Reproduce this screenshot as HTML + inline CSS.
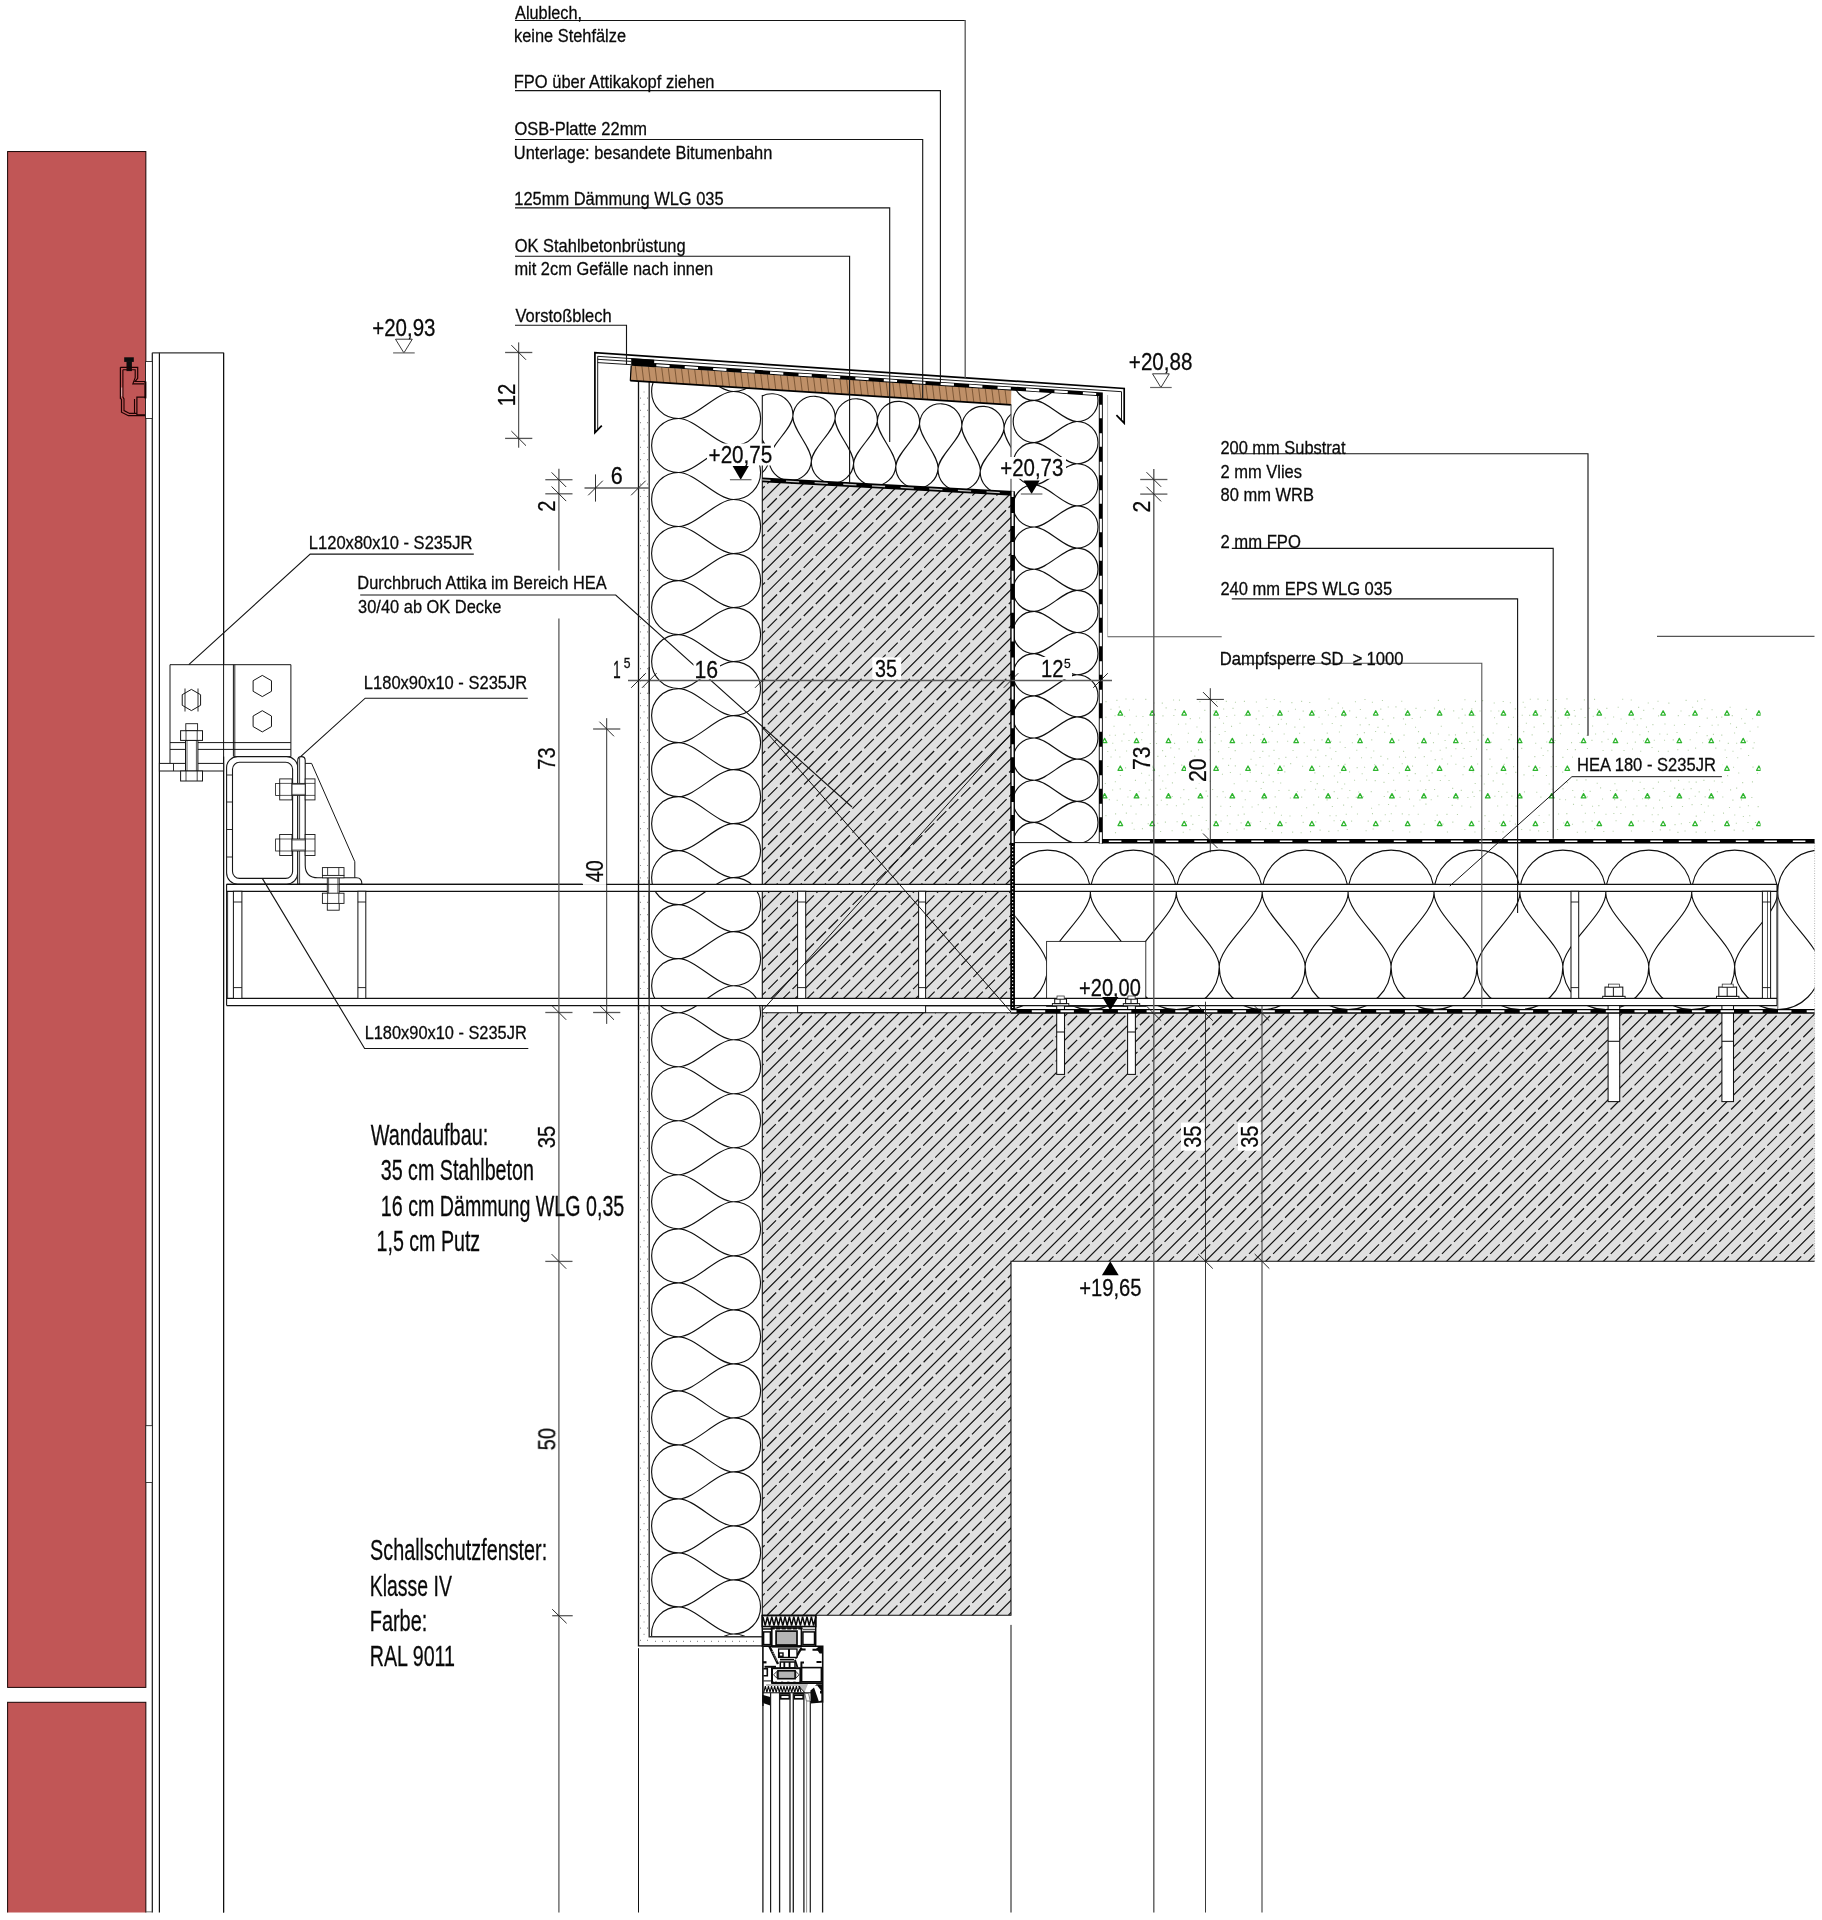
<!DOCTYPE html>
<html><head><meta charset="utf-8"><title>Attika Detail</title>
<style>html,body{margin:0;padding:0;background:#fff}svg{display:block}text{font-family:"Liberation Sans",sans-serif;white-space:pre}</style>
</head><body>
<svg width="1822" height="1920" viewBox="0 0 1822 1920" shape-rendering="geometricPrecision">
<rect width="1822" height="1920" fill="#fff"/>
<clipPath id="gclip"><rect x="0" y="0" width="1822" height="1912.5"/></clipPath>
<g clip-path="url(#gclip)">
<rect x="7.6" y="151.55" width="138.25" height="1535.85" fill="#c15656" stroke="#1a0606" stroke-width="1.0" />
<rect x="7.6" y="1702.3" width="138.25" height="222.7" fill="#c15656" stroke="#1a0606" stroke-width="1.0" />
<line x1="152.3" y1="352.8" x2="152.3" y2="1925" stroke="#111" stroke-width="1.2" />
<line x1="159.4" y1="352.8" x2="159.4" y2="1925" stroke="#111" stroke-width="1.2" />
<line x1="223.6" y1="352.8" x2="223.6" y2="1925" stroke="#111" stroke-width="1.2" />
<line x1="152.3" y1="352.8" x2="223.6" y2="352.8" stroke="#333" stroke-width="1.3" />
<rect x="145.6" y="361.6" width="6.7" height="56.8" fill="#fff" stroke="#111" stroke-width="0.8" />
<rect x="145.8" y="1425.7" width="6.5" height="56.9" fill="#fff" stroke="#111" stroke-width="0.8" />
<line x1="146" y1="1912" x2="152.3" y2="1912" stroke="#444" stroke-width="1" />
<rect x="124.2" y="357.3" width="9.6" height="4.6" fill="#0d0d0d"  />
<rect x="126.5" y="361.5" width="5.4" height="9.6" fill="#0d0d0d"  />
<path d="M120.4 367.3 H137.7 V378.4 L135 381.5 H145 M145 397.2 H136.9 V414.9 H145 M120.4 367.3 V398.4 L121.5 399.2 V412.2 L128.4 415.7 H145" fill="none" stroke="#1c0202" stroke-width="1.2" />
<path d="M122.9 369.8 H135.2 V377.6 L132.8 383.9 H144 M134.5 399 V413 M122.9 369.8 V397 L124 399 V410.6 L129.6 413.4 H136.9" fill="none" stroke="#1c0202" stroke-width="1.1" />
<line x1="145.4" y1="381.5" x2="145.4" y2="398.4" stroke="#100" stroke-width="2.0" />
<line x1="121.6" y1="387.5" x2="121.6" y2="396.5" stroke="#dba0a0" stroke-width="1.2" />
<polygon points="762.3,479.7 1011,493.1 1011,1005.7 762.3,1005.7" fill="#e0e0e0"  />
<polygon points="762.3,1012.8 1011,1012.8 1011,1013.6 1814.6,1013.6 1814.6,1261.3 1011,1261.3 1011,1615.2 762.3,1615.2" fill="#e0e0e0"  />
<clipPath id="c1"><polygon points="762.3,479.7 1011,493.1 1011,1005.7 762.3,1005.7"/></clipPath>
<g clip-path="url(#c1)"><g transform="translate(2.3 0)" stroke="#161616" stroke-width="1.22" fill="none">
<path d="M180.36 1008L712.36 476M204.48 1008L736.48 476M228.6 1008L760.6 476M252.72 1008L784.72 476M276.84 1008L808.84 476M300.96 1008L832.96 476M325.08 1008L857.08 476M349.2 1008L881.2 476M373.32 1008L905.32 476M397.44 1008L929.44 476M421.56 1008L953.56 476M445.68 1008L977.68 476M469.8 1008L1001.8 476M493.92 1008L1025.92 476M518.04 1008L1050.04 476M542.16 1008L1074.16 476M566.28 1008L1098.28 476M590.4 1008L1122.4 476M614.52 1008L1146.52 476M638.64 1008L1170.64 476M662.76 1008L1194.76 476M686.88 1008L1218.88 476M711 1008L1243 476M735.12 1008L1267.12 476M759.24 1008L1291.24 476M783.36 1008L1315.36 476M807.48 1008L1339.48 476M831.6 1008L1363.6 476M855.72 1008L1387.72 476M879.84 1008L1411.84 476M903.96 1008L1435.96 476M928.08 1008L1460.08 476M952.2 1008L1484.2 476M976.32 1008L1508.32 476M1000.44 1008L1532.44 476M1024.56 1008L1556.56 476M1048.68 1008L1580.68 476"/>
<path d="M187.22 1013.19L724.42 476M211.34 1013.19L748.54 476M235.46 1013.19L772.66 476M259.58 1013.19L796.78 476M283.7 1013.19L820.9 476M307.82 1013.19L845.02 476M331.94 1013.19L869.14 476M356.06 1013.19L893.26 476M380.18 1013.19L917.38 476M404.3 1013.19L941.5 476M428.42 1013.19L965.62 476M452.54 1013.19L989.74 476M476.66 1013.19L1013.86 476M500.78 1013.19L1037.98 476M524.9 1013.19L1062.1 476M549.02 1013.19L1086.22 476M573.14 1013.19L1110.34 476M597.26 1013.19L1134.46 476M621.38 1013.19L1158.58 476M645.5 1013.19L1182.7 476M669.62 1013.19L1206.82 476M693.74 1013.19L1230.94 476M717.86 1013.19L1255.06 476M741.98 1013.19L1279.18 476M766.1 1013.19L1303.3 476M790.22 1013.19L1327.42 476M814.34 1013.19L1351.54 476M838.46 1013.19L1375.66 476M862.58 1013.19L1399.78 476M886.7 1013.19L1423.9 476M910.82 1013.19L1448.02 476M934.94 1013.19L1472.14 476M959.06 1013.19L1496.26 476M983.18 1013.19L1520.38 476M1007.3 1013.19L1544.5 476M1031.42 1013.19L1568.62 476M1055.54 1013.19L1592.74 476" stroke-dasharray="13.42 3.6"/>
</g></g>
<clipPath id="c2"><polygon points="762.3,1012.8 1011,1012.8 1011,1013.6 1814.6,1013.6 1814.6,1261.3 1011,1261.3 1011,1615.2 762.3,1615.2"/></clipPath>
<g clip-path="url(#c2)"><g transform="translate(0 0)" stroke="#161616" stroke-width="1.22" fill="none">
<path d="M125.12 1618L733.12 1010M149.24 1618L757.24 1010M173.36 1618L781.36 1010M197.48 1618L805.48 1010M221.6 1618L829.6 1010M245.72 1618L853.72 1010M269.84 1618L877.84 1010M293.96 1618L901.96 1010M318.08 1618L926.08 1010M342.2 1618L950.2 1010M366.32 1618L974.32 1010M390.44 1618L998.44 1010M414.56 1618L1022.56 1010M438.68 1618L1046.68 1010M462.8 1618L1070.8 1010M486.92 1618L1094.92 1010M511.04 1618L1119.04 1010M535.16 1618L1143.16 1010M559.28 1618L1167.28 1010M583.4 1618L1191.4 1010M607.52 1618L1215.52 1010M631.64 1618L1239.64 1010M655.76 1618L1263.76 1010M679.88 1618L1287.88 1010M704 1618L1312 1010M728.12 1618L1336.12 1010M752.24 1618L1360.24 1010M776.36 1618L1384.36 1010M800.48 1618L1408.48 1010M824.6 1618L1432.6 1010M848.72 1618L1456.72 1010M872.84 1618L1480.84 1010M896.96 1618L1504.96 1010M921.08 1618L1529.08 1010M945.2 1618L1553.2 1010M969.32 1618L1577.32 1010M993.44 1618L1601.44 1010M1017.56 1618L1625.56 1010M1041.68 1618L1649.68 1010M1065.8 1618L1673.8 1010M1089.92 1618L1697.92 1010M1114.04 1618L1722.04 1010M1138.16 1618L1746.16 1010M1162.28 1618L1770.28 1010M1186.4 1618L1794.4 1010M1210.52 1618L1818.52 1010M1234.64 1618L1842.64 1010M1258.76 1618L1866.76 1010M1282.88 1618L1890.88 1010M1307 1618L1915 1010M1331.12 1618L1939.12 1010M1355.24 1618L1963.24 1010M1379.36 1618L1987.36 1010M1403.48 1618L2011.48 1010M1427.6 1618L2035.6 1010M1451.72 1618L2059.72 1010M1475.84 1618L2083.84 1010M1499.96 1618L2107.96 1010M1524.08 1618L2132.08 1010M1548.2 1618L2156.2 1010M1572.32 1618L2180.32 1010M1596.44 1618L2204.44 1010M1620.56 1618L2228.56 1010M1644.68 1618L2252.68 1010M1668.8 1618L2276.8 1010M1692.92 1618L2300.92 1010M1717.04 1618L2325.04 1010M1741.16 1618L2349.16 1010M1765.28 1618L2373.28 1010M1789.4 1618L2397.4 1010M1813.52 1618L2421.52 1010M1837.64 1618L2445.64 1010"/>
<path d="M128.2 1626.98L745.18 1010M152.32 1626.98L769.3 1010M176.44 1626.98L793.42 1010M200.56 1626.98L817.54 1010M224.68 1626.98L841.66 1010M248.8 1626.98L865.78 1010M272.92 1626.98L889.9 1010M297.04 1626.98L914.02 1010M321.16 1626.98L938.14 1010M345.28 1626.98L962.26 1010M369.4 1626.98L986.38 1010M393.52 1626.98L1010.5 1010M417.64 1626.98L1034.62 1010M441.76 1626.98L1058.74 1010M465.88 1626.98L1082.86 1010M490 1626.98L1106.98 1010M514.12 1626.98L1131.1 1010M538.24 1626.98L1155.22 1010M562.36 1626.98L1179.34 1010M586.48 1626.98L1203.46 1010M610.6 1626.98L1227.58 1010M634.72 1626.98L1251.7 1010M658.84 1626.98L1275.82 1010M682.96 1626.98L1299.94 1010M707.08 1626.98L1324.06 1010M731.2 1626.98L1348.18 1010M755.32 1626.98L1372.3 1010M779.44 1626.98L1396.42 1010M803.56 1626.98L1420.54 1010M827.68 1626.98L1444.66 1010M851.8 1626.98L1468.78 1010M875.92 1626.98L1492.9 1010M900.04 1626.98L1517.02 1010M924.16 1626.98L1541.14 1010M948.28 1626.98L1565.26 1010M972.4 1626.98L1589.38 1010M996.52 1626.98L1613.5 1010M1020.64 1626.98L1637.62 1010M1044.76 1626.98L1661.74 1010M1068.88 1626.98L1685.86 1010M1093 1626.98L1709.98 1010M1117.12 1626.98L1734.1 1010M1141.24 1626.98L1758.22 1010M1165.36 1626.98L1782.34 1010M1189.48 1626.98L1806.46 1010M1213.6 1626.98L1830.58 1010M1237.72 1626.98L1854.7 1010M1261.84 1626.98L1878.82 1010M1285.96 1626.98L1902.94 1010M1310.08 1626.98L1927.06 1010M1334.2 1626.98L1951.18 1010M1358.32 1626.98L1975.3 1010M1382.44 1626.98L1999.42 1010M1406.56 1626.98L2023.54 1010M1430.68 1626.98L2047.66 1010M1454.8 1626.98L2071.78 1010M1478.92 1626.98L2095.9 1010M1503.04 1626.98L2120.02 1010M1527.16 1626.98L2144.14 1010M1551.28 1626.98L2168.26 1010M1575.4 1626.98L2192.38 1010M1599.52 1626.98L2216.5 1010M1623.64 1626.98L2240.62 1010M1647.76 1626.98L2264.74 1010M1671.88 1626.98L2288.86 1010M1696 1626.98L2312.98 1010M1720.12 1626.98L2337.1 1010M1744.24 1626.98L2361.22 1010M1768.36 1626.98L2385.34 1010M1792.48 1626.98L2409.46 1010M1816.6 1626.98L2433.58 1010M1840.72 1626.98L2457.7 1010" stroke-dasharray="13.42 3.6"/>
</g></g>
<polyline points="762.3,1615.2 762.3,395" fill="none" stroke="#111" stroke-width="1.1" />
<polyline points="762.3,1615.2 1011,1615.2 1011,1261.3 1814.6,1261.3" fill="none" stroke="#111" stroke-width="1.1" />
<line x1="1011" y1="1012.8" x2="762.3" y2="1012.8" stroke="#111" stroke-width="1.1" />
<line x1="762.3" y1="1005.7" x2="1011" y2="1005.7" stroke="#111" stroke-width="1.1" />
<g>
<path d="M1105.46 701.66h1.1M1116.36 700.41h1.1M1125.43 698.96h1.1M1132.71 699.2h1.1M1145.24 699.34h1.1M1153.56 702.97h1.1M1161.75 703.1h1.1M1172.98 700.07h1.1M1178.92 700.16h1.1M1199.36 701.61h1.1M1208.41 699.08h1.1M1216.11 701.79h1.1M1225.78 701.38h1.1M1234.92 702.3h1.1M1243.87 701.33h1.1M1255.85 702.01h1.1M1265.51 699.32h1.1M1273.73 699.47h1.1M1279.77 701.74h1.1M1291.32 702.65h1.1M1301.06 701.42h1.1M1309.21 702.5h1.1M1328.52 699.07h1.1M1337.65 703.17h1.1M1354.9 701.74h1.1M1364.43 699.54h1.1M1371.86 702.18h1.1M1381.89 700.52h1.1M1401.18 701.22h1.1M1437.83 700.38h1.1M1464.38 699.82h1.1M1474.93 701.39h1.1M1482.02 700.64h1.1M1493.69 702.99h1.1M1502.67 701.52h1.1M1509.84 702.76h1.1M1522.65 702.31h1.1M1529.76 699.26h1.1M1537.47 699.1h1.1M1547.11 700.3h1.1M1555.6 699.47h1.1M1566.4 698.91h1.1M1583.85 699.91h1.1M1594 699.34h1.1M1622.13 699.18h1.1M1630.71 699.96h1.1M1647.7 702.98h1.1M1657.45 701.19h1.1M1668.32 703.11h1.1M1685.55 700.41h1.1M1697 701.14h1.1M1704.25 699.78h1.1M1110.4 709.18h1.1M1118.73 707.02h1.1M1128.94 709.95h1.1M1150.32 711.25h1.1M1165.57 707.9h1.1M1174.7 709.65h1.1M1204.27 710.42h1.1M1213.51 710.9h1.1M1223.1 709h1.1M1232.47 708.36h1.1M1258.37 711.07h1.1M1266.55 707.46h1.1M1278.98 710.45h1.1M1287.84 711.21h1.1M1294.94 709.31h1.1M1302.66 711.17h1.1M1314.12 711.01h1.1M1324.84 710.54h1.1M1331.31 708.19h1.1M1341.98 708.04h1.1M1349.18 710.9h1.1M1359.82 709.47h1.1M1380.24 709.11h1.1M1387.7 706.98h1.1M1395.41 706.92h1.1M1404.56 708.98h1.1M1415.45 708.33h1.1M1424.64 710.35h1.1M1433.87 707.99h1.1M1444 709.13h1.1M1453.14 710.91h1.1M1461.7 709.12h1.1M1471.25 708.89h1.1M1479.5 711.04h1.1M1490.46 711.05h1.1M1498.26 711.05h1.1M1514.74 708.85h1.1M1524.46 707.22h1.1M1536.05 710.85h1.1M1544.95 709.81h1.1M1554.88 711.16h1.1M1564.39 708.65h1.1M1573.76 710.56h1.1M1580.5 709.17h1.1M1588.66 708.3h1.1M1597.09 709.34h1.1M1606.28 708.36h1.1M1617.65 707.18h1.1M1638.08 707.36h1.1M1643.17 710.33h1.1M1652.77 708.76h1.1M1680.46 710.94h1.1M1692.08 707.29h1.1M1701.23 708.77h1.1M1711.53 709.69h1.1M1729.57 707.19h1.1M1745.69 709.33h1.1M1105.37 717.32h1.1M1114.48 715.71h1.1M1124.09 716.37h1.1M1135.74 716.28h1.1M1142.38 716.53h1.1M1151.9 715.07h1.1M1162.42 715.83h1.1M1173.31 715.47h1.1M1189.78 718.67h1.1M1199.03 718.03h1.1M1218.86 718.11h1.1M1226.18 716.53h1.1M1234.17 715.31h1.1M1243.92 715.72h1.1M1255.7 718.83h1.1M1262.44 716.07h1.1M1272.42 715.69h1.1M1280.76 719.23h1.1M1299.08 719.25h1.1M1308.77 715h1.1M1318.49 717.21h1.1M1327.82 715.02h1.1M1335.19 716.76h1.1M1344.1 716.34h1.1M1355.78 717.33h1.1M1365.29 718.15h1.1M1382.23 719.33h1.1M1393.19 717.83h1.1M1402.88 718.92h1.1M1411.63 718.57h1.1M1419.9 717.22h1.1M1458.33 718h1.1M1464.61 715.14h1.1M1474.39 715.46h1.1M1493.96 717.76h1.1M1502.55 715.01h1.1M1512.89 717.21h1.1M1521.7 715.29h1.1M1529.11 715.33h1.1M1540.41 715.9h1.1M1550.69 717.17h1.1M1557.71 718.01h1.1M1567.51 717.83h1.1M1574.65 716.12h1.1M1584.54 717.5h1.1M1592.67 716.18h1.1M1604.65 717.97h1.1M1613.07 717.04h1.1M1620.52 718.93h1.1M1633.5 719.12h1.1M1640.42 718.61h1.1M1657.98 715.92h1.1M1677.76 715.62h1.1M1688.59 715.58h1.1M1706.7 718.09h1.1M1715.95 717.14h1.1M1721.22 717.16h1.1M1731.73 715.62h1.1M1740.99 718.7h1.1M1752.1 718.69h1.1M1113.48 726.24h1.1M1129.44 724.83h1.1M1147.79 724.98h1.1M1155.61 723.55h1.1M1177.92 724.2h1.1M1185.25 723.94h1.1M1196.41 726.99h1.1M1214.62 727.24h1.1M1222.97 723.32h1.1M1230.98 726.41h1.1M1239.46 723.32h1.1M1258.68 724.61h1.1M1269.05 727.4h1.1M1277.89 724.42h1.1M1285.94 723.84h1.1M1294.31 727.09h1.1M1303.57 727.09h1.1M1321.61 723.95h1.1M1331.7 723.5h1.1M1340.54 725.61h1.1M1359.62 724.92h1.1M1368.66 724.59h1.1M1377.42 727.36h1.1M1387.61 725.87h1.1M1404.99 724.19h1.1M1414.96 727.3h1.1M1440.74 726.22h1.1M1461.58 723.1h1.1M1472.28 726.73h1.1M1496.28 723.78h1.1M1508 727.24h1.1M1517.05 726.47h1.1M1525.83 723.27h1.1M1533.62 727.15h1.1M1543.14 723.66h1.1M1553.8 726.17h1.1M1560.51 725.41h1.1M1571.11 724.08h1.1M1578.65 724.43h1.1M1592.02 725.94h1.1M1607.23 724.19h1.1M1625.95 723.2h1.1M1636.77 724.95h1.1M1645.94 727.17h1.1M1652.35 724.59h1.1M1664.4 723.97h1.1M1673.85 725.32h1.1M1684.07 724.47h1.1M1699.17 726.45h1.1M1711.59 725.28h1.1M1717.58 724.93h1.1M1729.97 723.74h1.1M1735.94 727.39h1.1M1744.43 723.36h1.1M1757.35 726.99h1.1M1109.19 735.3h1.1M1114.82 735.32h1.1M1123.34 734.12h1.1M1134.05 732.66h1.1M1141.61 732.43h1.1M1155 731.74h1.1M1170.77 734.81h1.1M1187.82 733.28h1.1M1200.85 732.05h1.1M1209.95 731.33h1.1M1218.77 734.57h1.1M1224.55 731.48h1.1M1246.09 735.15h1.1M1253.2 735.41h1.1M1262.35 734.35h1.1M1271.61 731.22h1.1M1283.63 733.99h1.1M1299.03 733.29h1.1M1326.7 733.09h1.1M1338.88 732h1.1M1356.82 734.6h1.1M1363.84 732.61h1.1M1375.04 731.55h1.1M1384.11 732.29h1.1M1390.15 733.63h1.1M1403.51 735.09h1.1M1417.97 731.62h1.1M1429.92 733.17h1.1M1437.83 733.93h1.1M1448.49 734.93h1.1M1454.93 734.9h1.1M1466.09 732.84h1.1M1473.68 732.29h1.1M1482.67 735.09h1.1M1492.64 732.94h1.1M1510.62 734.76h1.1M1523.16 731.65h1.1M1531.6 734.9h1.1M1547.69 731.72h1.1M1559.88 733.77h1.1M1577.81 733.18h1.1M1586.62 735.36h1.1M1595.02 733.93h1.1M1603.22 731.82h1.1M1611.92 733.84h1.1M1620.9 731.25h1.1M1632.18 732.01h1.1M1639.29 734.7h1.1M1647.88 731.65h1.1M1659.22 734.01h1.1M1666.72 734.26h1.1M1676.45 732.55h1.1M1696.09 732.77h1.1M1706.6 735.59h1.1M1712.87 734.4h1.1M1721.23 735.17h1.1M1734.01 732.99h1.1M1749.52 731.27h1.1M1112.22 743.3h1.1M1121.34 740.93h1.1M1128.44 740.55h1.1M1141.07 739.78h1.1M1149.74 743.55h1.1M1155.96 743.45h1.1M1174.03 743.38h1.1M1186.98 742.03h1.1M1204.86 740.28h1.1M1214.32 742.95h1.1M1220.76 741.06h1.1M1230.69 739.84h1.1M1241.39 743.25h1.1M1249.87 742.63h1.1M1260.29 739.82h1.1M1268.22 742.06h1.1M1276.85 741.86h1.1M1287.1 741.27h1.1M1293.5 742.02h1.1M1303.64 742.66h1.1M1313.82 740.09h1.1M1321.47 739.87h1.1M1330.6 741.24h1.1M1339.58 742.1h1.1M1351.83 742.72h1.1M1358.04 741.52h1.1M1371.18 739.9h1.1M1398.19 740.15h1.1M1417.21 743.33h1.1M1425.67 743.39h1.1M1432.94 742.63h1.1M1444.54 740.51h1.1M1461.21 743.35h1.1M1469.36 741.53h1.1M1477.56 740.1h1.1M1490.72 742.29h1.1M1508.45 739.81h1.1M1517 740.88h1.1M1535.15 743.18h1.1M1546.17 742.07h1.1M1554.51 740.46h1.1M1570.99 742.66h1.1M1579.38 742.57h1.1M1591.41 740.42h1.1M1601.33 741.88h1.1M1607.58 739.31h1.1M1616.06 742.01h1.1M1626.86 743.24h1.1M1634.8 742.17h1.1M1643.01 740.86h1.1M1653.77 740.29h1.1M1663.99 740.2h1.1M1672.69 739.89h1.1M1689.66 739.72h1.1M1702.03 742.74h1.1M1708.56 739.35h1.1M1719.07 740.84h1.1M1727.75 743.42h1.1M1736.09 743.28h1.1M1746.54 741.09h1.1M1753.66 742.73h1.1M1107.22 751.54h1.1M1114.88 750.08h1.1M1126.02 750.98h1.1M1133.76 748.72h1.1M1145.51 750.85h1.1M1150.83 751.12h1.1M1162.05 750.66h1.1M1170.19 747.86h1.1M1178.57 748.88h1.1M1190.66 751.12h1.1M1197.97 749.84h1.1M1209.47 749.7h1.1M1218.02 751.65h1.1M1228.27 747.47h1.1M1234.64 750.67h1.1M1253.44 751.27h1.1M1262.25 751.39h1.1M1273.45 750.33h1.1M1292.49 750.47h1.1M1310.39 749.91h1.1M1317.33 750.14h1.1M1329.61 748.04h1.1M1335.27 751.49h1.1M1344.62 747.53h1.1M1356.25 750.19h1.1M1365.64 747.69h1.1M1373.2 751h1.1M1403.02 751.42h1.1M1418.51 747.89h1.1M1430.53 750.97h1.1M1439.63 750.18h1.1M1445.64 747.83h1.1M1455.3 748.8h1.1M1463.69 748.53h1.1M1475.95 749.02h1.1M1486.24 749.62h1.1M1500.54 749.22h1.1M1513 748.93h1.1M1521.17 748.35h1.1M1540.81 748.15h1.1M1547.29 750.75h1.1M1566.96 749.56h1.1M1574.81 749.58h1.1M1586.86 748.55h1.1M1602.54 750.48h1.1M1611.28 750.2h1.1M1623.47 750.47h1.1M1631.96 748.96h1.1M1640.14 751.32h1.1M1651.51 747.51h1.1M1657.96 751.37h1.1M1667.67 751.29h1.1M1677.23 749.74h1.1M1687.71 750.24h1.1M1695.04 748.08h1.1M1715.26 748.15h1.1M1724.6 749.95h1.1M1732.43 751.29h1.1M1740.44 748.73h1.1M1752.51 748.08h1.1M1110.49 756.94h1.1M1119.31 756.94h1.1M1132.09 758.71h1.1M1141.23 755.95h1.1M1150.53 759h1.1M1157.31 756.36h1.1M1165.07 756.41h1.1M1173.95 757.26h1.1M1186.05 757.7h1.1M1194.24 756.12h1.1M1203.18 758.76h1.1M1222.33 758.8h1.1M1230.01 758.68h1.1M1250.48 759.25h1.1M1259.42 757.5h1.1M1268.56 755.93h1.1M1278.44 758.64h1.1M1285.3 757.36h1.1M1296.13 757.3h1.1M1306.69 756.31h1.1M1315.22 757.21h1.1M1325.29 755.67h1.1M1330.91 758.94h1.1M1349.04 758.03h1.1M1360.96 757.75h1.1M1370.65 757.8h1.1M1380.37 756.42h1.1M1387.13 758.86h1.1M1398.93 757.06h1.1M1405.01 757.26h1.1M1414.84 757.35h1.1M1423.75 756.67h1.1M1434.66 759.64h1.1M1441.56 759.03h1.1M1450.73 756.07h1.1M1462.56 758.29h1.1M1470.67 756.49h1.1M1489.41 759.1h1.1M1506.3 757.91h1.1M1517.87 757.06h1.1M1534.26 756.62h1.1M1542.62 755.51h1.1M1552.24 756.58h1.1M1562.31 757.39h1.1M1572.3 757.09h1.1M1600.64 759.49h1.1M1606.82 759.16h1.1M1615.47 755.55h1.1M1634.9 755.95h1.1M1644.03 758.92h1.1M1652.87 759.48h1.1M1662.14 759.42h1.1M1674.04 758.44h1.1M1692.69 756.37h1.1M1700.54 758.76h1.1M1711.28 757.94h1.1M1717.63 756.11h1.1M1726.06 757.56h1.1M1737.16 757.69h1.1M1748 755.53h1.1M1107.28 766.53h1.1M1125.04 767.83h1.1M1135.2 766.4h1.1M1144.28 766.6h1.1M1164.32 765.85h1.1M1173.15 763.75h1.1M1181.15 765.09h1.1M1198.89 765.91h1.1M1206.93 765.51h1.1M1217.64 767.24h1.1M1228.04 765.38h1.1M1234.8 765.83h1.1M1255.48 765.06h1.1M1262.52 766.18h1.1M1273.85 763.78h1.1M1283.5 766h1.1M1290.12 763.63h1.1M1302.05 766.28h1.1M1310.67 767.6h1.1M1319.11 766.36h1.1M1328.22 766.6h1.1M1337.73 765.61h1.1M1344.45 764.4h1.1M1356.61 767.62h1.1M1364.02 767.22h1.1M1374.07 764.74h1.1M1382.66 765h1.1M1392.82 767.71h1.1M1401.7 763.77h1.1M1411.97 766.13h1.1M1426.86 765.3h1.1M1440.13 767.92h1.1M1447.01 764.05h1.1M1455.33 764.27h1.1M1463.62 766.61h1.1M1477.05 763.99h1.1M1491.28 766.77h1.1M1503.63 764.42h1.1M1513.01 766.74h1.1M1528.37 766.37h1.1M1539.23 767.7h1.1M1550.64 766.76h1.1M1555.66 766.46h1.1M1575.37 766.81h1.1M1586.99 765.74h1.1M1594.02 766.13h1.1M1604.58 764.24h1.1M1612.4 766.44h1.1M1621.84 765.3h1.1M1633.36 767.05h1.1M1639.69 763.87h1.1M1660.44 765.06h1.1M1670.3 767.26h1.1M1676.56 765.49h1.1M1696.61 766.25h1.1M1721.21 764.76h1.1M1732.98 767.19h1.1M1752.47 767.17h1.1M1119.8 775.45h1.1M1141.02 773.23h1.1M1148.64 775.21h1.1M1158.7 775.8h1.1M1167.27 774.68h1.1M1174.71 772.82h1.1M1186.48 773.72h1.1M1195.75 775.1h1.1M1203.95 775.65h1.1M1221.9 774.29h1.1M1229.85 772.5h1.1M1239.8 774.18h1.1M1249.68 772.36h1.1M1260.99 773.35h1.1M1268.58 775.16h1.1M1277.63 773.22h1.1M1284.29 771.85h1.1M1314.3 772.85h1.1M1322.87 775.86h1.1M1333.8 775.94h1.1M1339.57 772.58h1.1M1348.97 771.92h1.1M1361.63 773.72h1.1M1388.03 773.45h1.1M1398.82 772.83h1.1M1406.62 775.91h1.1M1414.73 773.67h1.1M1426.45 776.06h1.1M1431.57 772.83h1.1M1444.57 775.68h1.1M1462.46 774.82h1.1M1472.54 771.95h1.1M1480.72 775.83h1.1M1487.91 774.3h1.1M1496.26 773.13h1.1M1505.55 773.82h1.1M1515.25 772.33h1.1M1523.46 774.86h1.1M1532.76 775.78h1.1M1545.91 775.51h1.1M1562.17 772.13h1.1M1589.79 773.2h1.1M1608.96 772.33h1.1M1615.65 774.84h1.1M1625.24 775.53h1.1M1635.61 772.39h1.1M1646.69 773.17h1.1M1654.36 773.1h1.1M1674.91 771.95h1.1M1689.93 773.8h1.1M1699.33 772.59h1.1M1711.76 776.09h1.1M1727.07 775.64h1.1M1738.2 772.99h1.1M1756.95 773.2h1.1M1104.81 783.46h1.1M1114.82 781.72h1.1M1134.91 780.41h1.1M1144.99 782.93h1.1M1151.15 780.18h1.1M1162.18 781.01h1.1M1171.89 782.91h1.1M1188.49 780.09h1.1M1198.6 782.98h1.1M1209.57 781.27h1.1M1233.67 783.8h1.1M1246.64 780.97h1.1M1255.66 781.42h1.1M1262.83 782.42h1.1M1272.69 781.76h1.1M1280.13 782.94h1.1M1310.33 781.48h1.1M1316.67 783.64h1.1M1337.06 782.13h1.1M1344.09 784.06h1.1M1354 780.25h1.1M1366 779.93h1.1M1374.68 780.66h1.1M1383.44 782.34h1.1M1393.09 780.25h1.1M1408.6 780.34h1.1M1419.8 781.03h1.1M1428.58 780.4h1.1M1439.79 780.45h1.1M1448.48 780.52h1.1M1474.65 783.49h1.1M1483.74 783.94h1.1M1492.69 780.86h1.1M1502.32 784.12h1.1M1548.68 784.01h1.1M1566.66 782.58h1.1M1576.34 780.1h1.1M1585.42 779.89h1.1M1596.67 783.22h1.1M1614.36 783.69h1.1M1632.02 780.97h1.1M1639.6 782.19h1.1M1657.9 782.09h1.1M1670.18 781.07h1.1M1678.05 780.33h1.1M1688.61 782.06h1.1M1695.65 782.15h1.1M1703.35 780.38h1.1M1713.79 781.07h1.1M1721.59 782.2h1.1M1742.11 782.66h1.1M1751.93 781.83h1.1M1112.1 789.96h1.1M1119.67 788.87h1.1M1129.49 790.48h1.1M1138.55 791.69h1.1M1148.65 790.06h1.1M1159.75 789.2h1.1M1165.3 788.19h1.1M1183.27 789.61h1.1M1195.44 788.38h1.1M1205.62 791.15h1.1M1212.08 789.45h1.1M1222.51 791.64h1.1M1241.45 791.17h1.1M1249.49 791.35h1.1M1260.62 788.46h1.1M1278.37 790.48h1.1M1288.44 790.42h1.1M1296.85 791.74h1.1M1304.27 789.89h1.1M1314.98 789.19h1.1M1323.44 789.59h1.1M1333.66 791.64h1.1M1341.35 788.71h1.1M1349.24 790.43h1.1M1358.19 791.95h1.1M1370.71 791.59h1.1M1387.28 791.91h1.1M1394.81 790.39h1.1M1407.85 791.3h1.1M1417.39 790.18h1.1M1425.22 789.61h1.1M1434.02 789.44h1.1M1452.11 788.34h1.1M1460.76 790.37h1.1M1472.07 792.14h1.1M1479.34 790.65h1.1M1498.13 791.49h1.1M1506.4 792.21h1.1M1523.89 791.84h1.1M1536.21 792.26h1.1M1551.69 789.18h1.1M1562.42 788.73h1.1M1572.17 790.55h1.1M1582.97 790.7h1.1M1589.61 791.37h1.1M1600.04 787.92h1.1M1609.91 790.48h1.1M1616.27 790.09h1.1M1625.77 790.75h1.1M1638.19 790.43h1.1M1643.53 788.59h1.1M1652.67 788.34h1.1M1663.7 791.52h1.1M1674.15 788.17h1.1M1683.19 789.32h1.1M1690.56 788.65h1.1M1698.64 791.88h1.1M1708.94 789.88h1.1M1716.84 791.82h1.1M1730.02 789.83h1.1M1736.1 788.09h1.1M1108.76 799.59h1.1M1116.65 800.22h1.1M1127.38 797.07h1.1M1135.56 796.97h1.1M1145.45 798.13h1.1M1151.87 796.76h1.1M1160.82 800.27h1.1M1171.67 796.51h1.1M1180.1 797.77h1.1M1188.14 799.63h1.1M1197.88 796.84h1.1M1207.04 796.15h1.1M1216.7 796.69h1.1M1224.81 797.19h1.1M1244.75 799.68h1.1M1262.75 799.18h1.1M1274.62 796.92h1.1M1289.8 797.99h1.1M1301.11 797.15h1.1M1318.02 797.08h1.1M1326.54 799.84h1.1M1337.06 798.39h1.1M1347.4 797.69h1.1M1355.7 797.37h1.1M1362.78 796.78h1.1M1383.72 796.48h1.1M1391.59 798.2h1.1M1399.49 797.37h1.1M1408.95 799.15h1.1M1419.37 800h1.1M1430.68 799.79h1.1M1437.22 796.13h1.1M1448.12 797.55h1.1M1457.3 799.08h1.1M1467.33 797.55h1.1M1473.6 796.51h1.1M1494.34 796.18h1.1M1501.11 796.87h1.1M1511.28 796.17h1.1M1521.61 796.79h1.1M1540.35 797.12h1.1M1549.41 797.54h1.1M1559.27 799.42h1.1M1564.99 799.76h1.1M1574.21 797.08h1.1M1586.68 796.92h1.1M1601.98 799.06h1.1M1614.09 799.65h1.1M1620.4 800.16h1.1M1633.29 799.04h1.1M1642.05 798.76h1.1M1647.84 799.07h1.1M1659.05 800.08h1.1M1669.35 796.19h1.1M1678.75 797.15h1.1M1688.67 798.81h1.1M1694.7 796.26h1.1M1704.61 796.89h1.1M1712.6 799.11h1.1M1722.25 797.06h1.1M1732.36 800.12h1.1M1740.92 799.89h1.1M1751.28 797.47h1.1M1121.95 804.84h1.1M1130.43 806.13h1.1M1140.66 804.6h1.1M1147.79 805.01h1.1M1156.64 804.97h1.1M1166.57 804.6h1.1M1175.86 805.7h1.1M1183.32 804.15h1.1M1201.77 807.26h1.1M1220.28 806.25h1.1M1229.84 806.49h1.1M1242.25 806.94h1.1M1251.52 806.97h1.1M1257.68 804.71h1.1M1269.21 807.79h1.1M1275.82 806.91h1.1M1306.05 807.75h1.1M1313.24 804.91h1.1M1331.82 806.52h1.1M1343.06 805.15h1.1M1351.09 806.86h1.1M1370.98 808.26h1.1M1378.4 804.79h1.1M1387.96 804.45h1.1M1395.32 806.05h1.1M1413.18 806.03h1.1M1425.38 804.11h1.1M1451.67 805.35h1.1M1461.26 805.95h1.1M1470.13 807.03h1.1M1497.1 806.05h1.1M1506.53 804.96h1.1M1515.62 806.13h1.1M1572.97 804.36h1.1M1581.28 805.41h1.1M1591.99 806.22h1.1M1598.32 805.61h1.1M1616.23 807.09h1.1M1624.97 807.01h1.1M1636.36 805.93h1.1M1645.49 805.84h1.1M1652.99 808.02h1.1M1661.89 807.89h1.1M1671.02 806.44h1.1M1681.95 806.54h1.1M1691.52 804.6h1.1M1700.79 804.45h1.1M1707.72 806.03h1.1M1728.94 807.43h1.1M1739.36 807.28h1.1M1747.85 805.82h1.1M1757.62 806.58h1.1M1105.4 815.62h1.1M1115.04 813.84h1.1M1125.81 813.14h1.1M1135.51 814.07h1.1M1154.64 814.68h1.1M1181.68 813.7h1.1M1190.59 815.83h1.1M1198.44 815.44h1.1M1215.39 814.86h1.1M1226.81 815.73h1.1M1237.67 815.17h1.1M1243.65 814.17h1.1M1261.7 812.29h1.1M1273.92 813.02h1.1M1280.88 815.22h1.1M1289.43 816.05h1.1M1301.03 815.76h1.1M1317.91 812.86h1.1M1329.44 815.72h1.1M1335.6 815.8h1.1M1345.73 814.29h1.1M1356.92 813.93h1.1M1371.93 813.65h1.1M1384.73 814.79h1.1M1390.75 813.79h1.1M1401.74 813.91h1.1M1408.43 814.75h1.1M1417.69 814.22h1.1M1436.64 815.15h1.1M1446.4 814.4h1.1M1456.9 814.52h1.1M1484.47 815.59h1.1M1503.19 814.99h1.1M1510.84 815.7h1.1M1538.54 815.56h1.1M1548.64 814.99h1.1M1558.02 813.99h1.1M1566.28 813.62h1.1M1584.82 813.27h1.1M1593.94 812.8h1.1M1605.43 814.19h1.1M1613.3 813.53h1.1M1620.29 813.53h1.1M1632.4 814.63h1.1M1651.65 814.77h1.1M1657.59 814.75h1.1M1678.61 814.08h1.1M1695.73 816.16h1.1M1703.93 812.3h1.1M1713.18 815.3h1.1M1722.96 813.08h1.1M1734.2 815.05h1.1M1742.83 816.44h1.1M1749.15 815.76h1.1M1119.2 821.13h1.1M1131.65 823.12h1.1M1147.64 823.6h1.1M1157.18 823.29h1.1M1164.85 822.12h1.1M1176.56 821.77h1.1M1185.63 821.43h1.1M1192.26 824.37h1.1M1205.75 820.55h1.1M1213.79 821.75h1.1M1220.49 820.93h1.1M1229.4 823.88h1.1M1240.57 822.89h1.1M1250.29 822.95h1.1M1259.86 821.43h1.1M1269.16 823.71h1.1M1278.4 824.6h1.1M1285.42 822.6h1.1M1302.64 822.39h1.1M1315.21 821.89h1.1M1333.53 820.7h1.1M1339.99 820.56h1.1M1351.04 821.1h1.1M1367.66 821.08h1.1M1380.25 821.01h1.1M1388.82 821.37h1.1M1406.6 821.81h1.1M1423.62 824.28h1.1M1434.63 820.59h1.1M1442.37 824.1h1.1M1452.28 822.1h1.1M1478.39 821.41h1.1M1488.51 821.32h1.1M1499.14 823.13h1.1M1509.37 821.25h1.1M1514.89 824.1h1.1M1535.91 823.92h1.1M1543.26 822.44h1.1M1563.2 822.93h1.1M1571.95 824.18h1.1M1582.49 821.89h1.1M1591.6 821.1h1.1M1615.51 820.79h1.1M1637.81 820.96h1.1M1643.43 821.04h1.1M1652.6 821.79h1.1M1674.48 824.61h1.1M1680.83 823.79h1.1M1689.17 822.52h1.1M1700.09 820.76h1.1M1711.76 821.69h1.1M1727.94 820.9h1.1M1735.79 823.32h1.1M1747.45 822.5h1.1M1754.96 822.48h1.1M1114.95 832.66h1.1M1133.6 829.18h1.1M1141.9 828.59h1.1M1152.6 830.85h1.1M1160.05 831.43h1.1M1171.59 830.81h1.1M1182.72 832.25h1.1M1189.36 829.8h1.1M1201.08 830.1h1.1M1207.8 829.03h1.1M1227.07 832.48h1.1M1236.29 830.06h1.1M1243.67 828.91h1.1M1265.2 828.62h1.1M1271.83 831.24h1.1M1280.99 832.68h1.1M1292.08 832.16h1.1M1300.61 832.78h1.1M1309.97 831.67h1.1M1319.53 830.13h1.1M1328.3 831.38h1.1M1337.57 830.79h1.1M1346.7 829.57h1.1M1365.57 830.7h1.1M1372.57 829.03h1.1M1392.31 830.72h1.1M1409.16 832.02h1.1M1420.42 832.04h1.1M1446.88 832.06h1.1M1464.28 829.51h1.1M1474.37 831.93h1.1M1483.99 828.79h1.1M1495.59 831.46h1.1M1502.5 831.91h1.1M1510.26 831.39h1.1M1521.09 829.45h1.1M1529.5 830.08h1.1M1538.08 830.91h1.1M1547.19 831.56h1.1M1557.03 829.46h1.1M1576.8 832.18h1.1M1585.06 831.89h1.1M1594.04 828.59h1.1M1603.22 831.54h1.1M1612.59 831.25h1.1M1630.9 830.95h1.1M1651.87 831.53h1.1M1659.73 829.85h1.1M1669.33 830.07h1.1M1677.39 832.37h1.1M1684.51 831.01h1.1M1695.63 832.09h1.1M1704.88 832.32h1.1M1714.16 830.65h1.1M1733.66 830.17h1.1M1742.59 830.84h1.1M1752.19 828.92h1.1" stroke="#b9d3ad" stroke-width="1.1" fill="none"/>
<clipPath id="c3"><polygon points="1102.5,690 1760.6,690 1760.6,839 1102.5,839"/></clipPath>
<path d="M1118 715L1120.3 710.7L1122.6 715ZM1149.93 715L1152.23 710.7L1154.53 715ZM1181.86 715L1184.16 710.7L1186.46 715ZM1213.79 715L1216.09 710.7L1218.39 715ZM1245.72 715L1248.02 710.7L1250.32 715ZM1277.65 715L1279.95 710.7L1282.25 715ZM1309.58 715L1311.88 710.7L1314.18 715ZM1341.51 715L1343.81 710.7L1346.11 715ZM1373.44 715L1375.74 710.7L1378.04 715ZM1405.37 715L1407.67 710.7L1409.97 715ZM1437.3 715L1439.6 710.7L1441.9 715ZM1469.23 715L1471.53 710.7L1473.83 715ZM1501.16 715L1503.46 710.7L1505.76 715ZM1533.09 715L1535.39 710.7L1537.69 715ZM1565.02 715L1567.32 710.7L1569.62 715ZM1596.95 715L1599.25 710.7L1601.55 715ZM1628.88 715L1631.18 710.7L1633.48 715ZM1660.81 715L1663.11 710.7L1665.41 715ZM1692.74 715L1695.04 710.7L1697.34 715ZM1724.67 715L1726.97 710.7L1729.27 715ZM1756.6 715L1758.9 710.7L1761.2 715ZM1102.3 742.7L1104.6 738.4L1106.9 742.7ZM1134.23 742.7L1136.53 738.4L1138.83 742.7ZM1166.16 742.7L1168.46 738.4L1170.76 742.7ZM1198.09 742.7L1200.39 738.4L1202.69 742.7ZM1230.02 742.7L1232.32 738.4L1234.62 742.7ZM1261.95 742.7L1264.25 738.4L1266.55 742.7ZM1293.88 742.7L1296.18 738.4L1298.48 742.7ZM1325.81 742.7L1328.11 738.4L1330.41 742.7ZM1357.74 742.7L1360.04 738.4L1362.34 742.7ZM1389.67 742.7L1391.97 738.4L1394.27 742.7ZM1421.6 742.7L1423.9 738.4L1426.2 742.7ZM1453.53 742.7L1455.83 738.4L1458.13 742.7ZM1485.46 742.7L1487.76 738.4L1490.06 742.7ZM1517.39 742.7L1519.69 738.4L1521.99 742.7ZM1549.32 742.7L1551.62 738.4L1553.92 742.7ZM1581.25 742.7L1583.55 738.4L1585.85 742.7ZM1613.18 742.7L1615.48 738.4L1617.78 742.7ZM1645.11 742.7L1647.41 738.4L1649.71 742.7ZM1677.04 742.7L1679.34 738.4L1681.64 742.7ZM1708.97 742.7L1711.27 738.4L1713.57 742.7ZM1740.9 742.7L1743.2 738.4L1745.5 742.7ZM1118 770.3L1120.3 766L1122.6 770.3ZM1149.93 770.3L1152.23 766L1154.53 770.3ZM1181.86 770.3L1184.16 766L1186.46 770.3ZM1213.79 770.3L1216.09 766L1218.39 770.3ZM1245.72 770.3L1248.02 766L1250.32 770.3ZM1277.65 770.3L1279.95 766L1282.25 770.3ZM1309.58 770.3L1311.88 766L1314.18 770.3ZM1341.51 770.3L1343.81 766L1346.11 770.3ZM1373.44 770.3L1375.74 766L1378.04 770.3ZM1405.37 770.3L1407.67 766L1409.97 770.3ZM1437.3 770.3L1439.6 766L1441.9 770.3ZM1469.23 770.3L1471.53 766L1473.83 770.3ZM1501.16 770.3L1503.46 766L1505.76 770.3ZM1533.09 770.3L1535.39 766L1537.69 770.3ZM1565.02 770.3L1567.32 766L1569.62 770.3ZM1596.95 770.3L1599.25 766L1601.55 770.3ZM1628.88 770.3L1631.18 766L1633.48 770.3ZM1660.81 770.3L1663.11 766L1665.41 770.3ZM1692.74 770.3L1695.04 766L1697.34 770.3ZM1724.67 770.3L1726.97 766L1729.27 770.3ZM1756.6 770.3L1758.9 766L1761.2 770.3ZM1102.3 797.9L1104.6 793.6L1106.9 797.9ZM1134.23 797.9L1136.53 793.6L1138.83 797.9ZM1166.16 797.9L1168.46 793.6L1170.76 797.9ZM1198.09 797.9L1200.39 793.6L1202.69 797.9ZM1230.02 797.9L1232.32 793.6L1234.62 797.9ZM1261.95 797.9L1264.25 793.6L1266.55 797.9ZM1293.88 797.9L1296.18 793.6L1298.48 797.9ZM1325.81 797.9L1328.11 793.6L1330.41 797.9ZM1357.74 797.9L1360.04 793.6L1362.34 797.9ZM1389.67 797.9L1391.97 793.6L1394.27 797.9ZM1421.6 797.9L1423.9 793.6L1426.2 797.9ZM1453.53 797.9L1455.83 793.6L1458.13 797.9ZM1485.46 797.9L1487.76 793.6L1490.06 797.9ZM1517.39 797.9L1519.69 793.6L1521.99 797.9ZM1549.32 797.9L1551.62 793.6L1553.92 797.9ZM1581.25 797.9L1583.55 793.6L1585.85 797.9ZM1613.18 797.9L1615.48 793.6L1617.78 797.9ZM1645.11 797.9L1647.41 793.6L1649.71 797.9ZM1677.04 797.9L1679.34 793.6L1681.64 797.9ZM1708.97 797.9L1711.27 793.6L1713.57 797.9ZM1740.9 797.9L1743.2 793.6L1745.5 797.9ZM1118 825.6L1120.3 821.3L1122.6 825.6ZM1149.93 825.6L1152.23 821.3L1154.53 825.6ZM1181.86 825.6L1184.16 821.3L1186.46 825.6ZM1213.79 825.6L1216.09 821.3L1218.39 825.6ZM1245.72 825.6L1248.02 821.3L1250.32 825.6ZM1277.65 825.6L1279.95 821.3L1282.25 825.6ZM1309.58 825.6L1311.88 821.3L1314.18 825.6ZM1341.51 825.6L1343.81 821.3L1346.11 825.6ZM1373.44 825.6L1375.74 821.3L1378.04 825.6ZM1405.37 825.6L1407.67 821.3L1409.97 825.6ZM1437.3 825.6L1439.6 821.3L1441.9 825.6ZM1469.23 825.6L1471.53 821.3L1473.83 825.6ZM1501.16 825.6L1503.46 821.3L1505.76 825.6ZM1533.09 825.6L1535.39 821.3L1537.69 825.6ZM1565.02 825.6L1567.32 821.3L1569.62 825.6ZM1596.95 825.6L1599.25 821.3L1601.55 825.6ZM1628.88 825.6L1631.18 821.3L1633.48 825.6ZM1660.81 825.6L1663.11 821.3L1665.41 825.6ZM1692.74 825.6L1695.04 821.3L1697.34 825.6ZM1724.67 825.6L1726.97 821.3L1729.27 825.6ZM1756.6 825.6L1758.9 821.3L1761.2 825.6Z" stroke="#2fb52f" stroke-width="1.25" fill="none" stroke-linejoin="round" clip-path="url(#c3)"/>
</g>
<clipPath id="c4"><polygon points="649.8,381.89 762.3,389.31 762.3,1636.8 649.8,1636.8"/></clipPath>
<path d="M678.61 256.44 A27.01 27.01 0 0 0 678.61 310.46 C695.1 310.46 717.1 283.45 733.59 283.45 A27.01 27.01 0 0 1 733.59 337.47 C717.1 337.47 695.1 310.46 678.61 310.46 A27.01 27.01 0 0 0 678.61 364.48 C695.1 364.48 717.1 337.47 733.59 337.47 A27.01 27.01 0 0 1 733.59 391.49 C717.1 391.49 695.1 364.48 678.61 364.48 A27.01 27.01 0 0 0 678.61 418.5 C695.1 418.5 717.1 391.49 733.59 391.49 A27.01 27.01 0 0 1 733.59 445.51 C717.1 445.51 695.1 418.5 678.61 418.5 A27.01 27.01 0 0 0 678.61 472.52 C695.1 472.52 717.1 445.51 733.59 445.51 A27.01 27.01 0 0 1 733.59 499.53 C717.1 499.53 695.1 472.52 678.61 472.52 A27.01 27.01 0 0 0 678.61 526.54 C695.1 526.54 717.1 499.53 733.59 499.53 A27.01 27.01 0 0 1 733.59 553.55 C717.1 553.55 695.1 526.54 678.61 526.54 A27.01 27.01 0 0 0 678.61 580.56 C695.1 580.56 717.1 553.55 733.59 553.55 A27.01 27.01 0 0 1 733.59 607.57 C717.1 607.57 695.1 580.56 678.61 580.56 A27.01 27.01 0 0 0 678.61 634.58 C695.1 634.58 717.1 607.57 733.59 607.57 A27.01 27.01 0 0 1 733.59 661.59 C717.1 661.59 695.1 634.58 678.61 634.58 A27.01 27.01 0 0 0 678.61 688.6 C695.1 688.6 717.1 661.59 733.59 661.59 A27.01 27.01 0 0 1 733.59 715.61 C717.1 715.61 695.1 688.6 678.61 688.6 A27.01 27.01 0 0 0 678.61 742.62 C695.1 742.62 717.1 715.61 733.59 715.61 A27.01 27.01 0 0 1 733.59 769.63 C717.1 769.63 695.1 742.62 678.61 742.62 A27.01 27.01 0 0 0 678.61 796.64 C695.1 796.64 717.1 769.63 733.59 769.63 A27.01 27.01 0 0 1 733.59 823.65 C717.1 823.65 695.1 796.64 678.61 796.64 A27.01 27.01 0 0 0 678.61 850.66 C695.1 850.66 717.1 823.65 733.59 823.65 A27.01 27.01 0 0 1 733.59 877.67 C717.1 877.67 695.1 850.66 678.61 850.66 A27.01 27.01 0 0 0 678.61 904.68 C695.1 904.68 717.1 877.67 733.59 877.67 A27.01 27.01 0 0 1 733.59 931.69 C717.1 931.69 695.1 904.68 678.61 904.68 A27.01 27.01 0 0 0 678.61 958.7 C695.1 958.7 717.1 931.69 733.59 931.69 A27.01 27.01 0 0 1 733.59 985.71 C717.1 985.71 695.1 958.7 678.61 958.7 A27.01 27.01 0 0 0 678.61 1012.72 C695.1 1012.72 717.1 985.71 733.59 985.71 A27.01 27.01 0 0 1 733.59 1039.73 C717.1 1039.73 695.1 1012.72 678.61 1012.72 A27.01 27.01 0 0 0 678.61 1066.74 C695.1 1066.74 717.1 1039.73 733.59 1039.73 A27.01 27.01 0 0 1 733.59 1093.75 C717.1 1093.75 695.1 1066.74 678.61 1066.74 A27.01 27.01 0 0 0 678.61 1120.76 C695.1 1120.76 717.1 1093.75 733.59 1093.75 A27.01 27.01 0 0 1 733.59 1147.77 C717.1 1147.77 695.1 1120.76 678.61 1120.76 A27.01 27.01 0 0 0 678.61 1174.78 C695.1 1174.78 717.1 1147.77 733.59 1147.77 A27.01 27.01 0 0 1 733.59 1201.79 C717.1 1201.79 695.1 1174.78 678.61 1174.78 A27.01 27.01 0 0 0 678.61 1228.8 C695.1 1228.8 717.1 1201.79 733.59 1201.79 A27.01 27.01 0 0 1 733.59 1255.81 C717.1 1255.81 695.1 1228.8 678.61 1228.8 A27.01 27.01 0 0 0 678.61 1282.82 C695.1 1282.82 717.1 1255.81 733.59 1255.81 A27.01 27.01 0 0 1 733.59 1309.83 C717.1 1309.83 695.1 1282.82 678.61 1282.82 A27.01 27.01 0 0 0 678.61 1336.84 C695.1 1336.84 717.1 1309.83 733.59 1309.83 A27.01 27.01 0 0 1 733.59 1363.85 C717.1 1363.85 695.1 1336.84 678.61 1336.84 A27.01 27.01 0 0 0 678.61 1390.86 C695.1 1390.86 717.1 1363.85 733.59 1363.85 A27.01 27.01 0 0 1 733.59 1417.87 C717.1 1417.87 695.1 1390.86 678.61 1390.86 A27.01 27.01 0 0 0 678.61 1444.88 C695.1 1444.88 717.1 1417.87 733.59 1417.87 A27.01 27.01 0 0 1 733.59 1471.89 C717.1 1471.89 695.1 1444.88 678.61 1444.88 A27.01 27.01 0 0 0 678.61 1498.9 C695.1 1498.9 717.1 1471.89 733.59 1471.89 A27.01 27.01 0 0 1 733.59 1525.91 C717.1 1525.91 695.1 1498.9 678.61 1498.9 A27.01 27.01 0 0 0 678.61 1552.92 C695.1 1552.92 717.1 1525.91 733.59 1525.91 A27.01 27.01 0 0 1 733.59 1579.93 C717.1 1579.93 695.1 1552.92 678.61 1552.92 A27.01 27.01 0 0 0 678.61 1606.94 C695.1 1606.94 717.1 1579.93 733.59 1579.93 A27.01 27.01 0 0 1 733.59 1633.95 C717.1 1633.95 695.1 1606.94 678.61 1606.94 A27.01 27.01 0 0 0 678.61 1660.96 C695.1 1660.96 717.1 1633.95 733.59 1633.95 A27.01 27.01 0 0 1 733.59 1687.97 C717.1 1687.97 695.1 1660.96 678.61 1660.96 A27.01 27.01 0 0 0 678.61 1714.98 C695.1 1714.98 717.1 1687.97 733.59 1687.97 A27.01 27.01 0 0 1 733.59 1741.99 C717.1 1741.99 695.1 1714.98 678.61 1714.98 A27.01 27.01 0 0 0 678.61 1769 C695.1 1769 717.1 1741.99 733.59 1741.99 A27.01 27.01 0 0 1 733.59 1796.01 C717.1 1796.01 695.1 1769 678.61 1769" fill="none" stroke="#101010" stroke-width="1.15" clip-path="url(#c4)"/>
<clipPath id="c5"><polygon points="1011.5,389.5 1099,395.2 1099,842.6 1011.5,842.6"/></clipPath>
<path d="M1034.3 273.8 A21.1 21.1 0 0 0 1034.3 316 C1047.08 316 1064.12 294.9 1076.9 294.9 A21.1 21.1 0 0 1 1076.9 337.1 C1064.12 337.1 1047.08 316 1034.3 316 A21.1 21.1 0 0 0 1034.3 358.2 C1047.08 358.2 1064.12 337.1 1076.9 337.1 A21.1 21.1 0 0 1 1076.9 379.3 C1064.12 379.3 1047.08 358.2 1034.3 358.2 A21.1 21.1 0 0 0 1034.3 400.4 C1047.08 400.4 1064.12 379.3 1076.9 379.3 A21.1 21.1 0 0 1 1076.9 421.5 C1064.12 421.5 1047.08 400.4 1034.3 400.4 A21.1 21.1 0 0 0 1034.3 442.6 C1047.08 442.6 1064.12 421.5 1076.9 421.5 A21.1 21.1 0 0 1 1076.9 463.7 C1064.12 463.7 1047.08 442.6 1034.3 442.6 A21.1 21.1 0 0 0 1034.3 484.8 C1047.08 484.8 1064.12 463.7 1076.9 463.7 A21.1 21.1 0 0 1 1076.9 505.9 C1064.12 505.9 1047.08 484.8 1034.3 484.8 A21.1 21.1 0 0 0 1034.3 527 C1047.08 527 1064.12 505.9 1076.9 505.9 A21.1 21.1 0 0 1 1076.9 548.1 C1064.12 548.1 1047.08 527 1034.3 527 A21.1 21.1 0 0 0 1034.3 569.2 C1047.08 569.2 1064.12 548.1 1076.9 548.1 A21.1 21.1 0 0 1 1076.9 590.3 C1064.12 590.3 1047.08 569.2 1034.3 569.2 A21.1 21.1 0 0 0 1034.3 611.4 C1047.08 611.4 1064.12 590.3 1076.9 590.3 A21.1 21.1 0 0 1 1076.9 632.5 C1064.12 632.5 1047.08 611.4 1034.3 611.4 A21.1 21.1 0 0 0 1034.3 653.6 C1047.08 653.6 1064.12 632.5 1076.9 632.5 A21.1 21.1 0 0 1 1076.9 674.7 C1064.12 674.7 1047.08 653.6 1034.3 653.6 A21.1 21.1 0 0 0 1034.3 695.8 C1047.08 695.8 1064.12 674.7 1076.9 674.7 A21.1 21.1 0 0 1 1076.9 716.9 C1064.12 716.9 1047.08 695.8 1034.3 695.8 A21.1 21.1 0 0 0 1034.3 738 C1047.08 738 1064.12 716.9 1076.9 716.9 A21.1 21.1 0 0 1 1076.9 759.1 C1064.12 759.1 1047.08 738 1034.3 738 A21.1 21.1 0 0 0 1034.3 780.2 C1047.08 780.2 1064.12 759.1 1076.9 759.1 A21.1 21.1 0 0 1 1076.9 801.3 C1064.12 801.3 1047.08 780.2 1034.3 780.2 A21.1 21.1 0 0 0 1034.3 822.4 C1047.08 822.4 1064.12 801.3 1076.9 801.3 A21.1 21.1 0 0 1 1076.9 843.5 C1064.12 843.5 1047.08 822.4 1034.3 822.4 A21.1 21.1 0 0 0 1034.3 864.6 C1047.08 864.6 1064.12 843.5 1076.9 843.5 A21.1 21.1 0 0 1 1076.9 885.7 C1064.12 885.7 1047.08 864.6 1034.3 864.6 A21.1 21.1 0 0 0 1034.3 906.8 C1047.08 906.8 1064.12 885.7 1076.9 885.7 A21.1 21.1 0 0 1 1076.9 927.9 C1064.12 927.9 1047.08 906.8 1034.3 906.8 A21.1 21.1 0 0 0 1034.3 949 C1047.08 949 1064.12 927.9 1076.9 927.9 A21.1 21.1 0 0 1 1076.9 970.1 C1064.12 970.1 1047.08 949 1034.3 949" fill="none" stroke="#101010" stroke-width="1.15" clip-path="url(#c5)"/>
<clipPath id="c6"><polygon points="762.3,389.31 1011,405.73 1011,493.1 762.3,479.7"/></clipPath>
<g clip-path="url(#c6)"><path transform="rotate(3.4 773 393.8)" d="M624.95 414.95 A21.15 21.15 0 0 1 667.25 414.95 C667.25 428 646.1 445.4 646.1 458.45 A21.15 21.15 0 0 0 688.4 458.45 C688.4 445.4 667.25 428 667.25 414.95 A21.15 21.15 0 0 1 709.55 414.95 C709.55 428 688.4 445.4 688.4 458.45 A21.15 21.15 0 0 0 730.7 458.45 C730.7 445.4 709.55 428 709.55 414.95 A21.15 21.15 0 0 1 751.85 414.95 C751.85 428 730.7 445.4 730.7 458.45 A21.15 21.15 0 0 0 773 458.45 C773 445.4 751.85 428 751.85 414.95 A21.15 21.15 0 0 1 794.15 414.95 C794.15 428 773 445.4 773 458.45 A21.15 21.15 0 0 0 815.3 458.45 C815.3 445.4 794.15 428 794.15 414.95 A21.15 21.15 0 0 1 836.45 414.95 C836.45 428 815.3 445.4 815.3 458.45 A21.15 21.15 0 0 0 857.6 458.45 C857.6 445.4 836.45 428 836.45 414.95 A21.15 21.15 0 0 1 878.75 414.95 C878.75 428 857.6 445.4 857.6 458.45 A21.15 21.15 0 0 0 899.9 458.45 C899.9 445.4 878.75 428 878.75 414.95 A21.15 21.15 0 0 1 921.05 414.95 C921.05 428 899.9 445.4 899.9 458.45 A21.15 21.15 0 0 0 942.2 458.45 C942.2 445.4 921.05 428 921.05 414.95 A21.15 21.15 0 0 1 963.35 414.95 C963.35 428 942.2 445.4 942.2 458.45 A21.15 21.15 0 0 0 984.5 458.45 C984.5 445.4 963.35 428 963.35 414.95 A21.15 21.15 0 0 1 1005.65 414.95 C1005.65 428 984.5 445.4 984.5 458.45 A21.15 21.15 0 0 0 1026.8 458.45 C1026.8 445.4 1005.65 428 1005.65 414.95 A21.15 21.15 0 0 1 1047.95 414.95 C1047.95 428 1026.8 445.4 1026.8 458.45 A21.15 21.15 0 0 0 1069.1 458.45 C1069.1 445.4 1047.95 428 1047.95 414.95 A21.15 21.15 0 0 1 1090.25 414.95 C1090.25 428 1069.1 445.4 1069.1 458.45 A21.15 21.15 0 0 0 1111.4 458.45 C1111.4 445.4 1090.25 428 1090.25 414.95 A21.15 21.15 0 0 1 1132.55 414.95 C1132.55 428 1111.4 445.4 1111.4 458.45 A21.15 21.15 0 0 0 1153.7 458.45 C1153.7 445.4 1132.55 428 1132.55 414.95" fill="none" stroke="#101010" stroke-width="1.15"/></g>
<clipPath id="c7"><polygon points="1015.2,843 1814.6,843 1814.6,1009.5 1015.2,1009.5"/></clipPath>
<path d="M746.8 893.05 A42.95 42.95 0 0 1 832.7 893.05 C832.7 915.13 789.75 944.57 789.75 966.65 A42.95 42.95 0 0 0 875.65 966.65 C875.65 944.57 832.7 915.13 832.7 893.05 A42.95 42.95 0 0 1 918.6 893.05 C918.6 915.13 875.65 944.57 875.65 966.65 A42.95 42.95 0 0 0 961.55 966.65 C961.55 944.57 918.6 915.13 918.6 893.05 A42.95 42.95 0 0 1 1004.5 893.05 C1004.5 915.13 961.55 944.57 961.55 966.65 A42.95 42.95 0 0 0 1047.45 966.65 C1047.45 944.57 1004.5 915.13 1004.5 893.05 A42.95 42.95 0 0 1 1090.4 893.05 C1090.4 915.13 1047.45 944.57 1047.45 966.65 A42.95 42.95 0 0 0 1133.35 966.65 C1133.35 944.57 1090.4 915.13 1090.4 893.05 A42.95 42.95 0 0 1 1176.3 893.05 C1176.3 915.13 1133.35 944.57 1133.35 966.65 A42.95 42.95 0 0 0 1219.25 966.65 C1219.25 944.57 1176.3 915.13 1176.3 893.05 A42.95 42.95 0 0 1 1262.2 893.05 C1262.2 915.13 1219.25 944.57 1219.25 966.65 A42.95 42.95 0 0 0 1305.15 966.65 C1305.15 944.57 1262.2 915.13 1262.2 893.05 A42.95 42.95 0 0 1 1348.1 893.05 C1348.1 915.13 1305.15 944.57 1305.15 966.65 A42.95 42.95 0 0 0 1391.05 966.65 C1391.05 944.57 1348.1 915.13 1348.1 893.05 A42.95 42.95 0 0 1 1434 893.05 C1434 915.13 1391.05 944.57 1391.05 966.65 A42.95 42.95 0 0 0 1476.95 966.65 C1476.95 944.57 1434 915.13 1434 893.05 A42.95 42.95 0 0 1 1519.9 893.05 C1519.9 915.13 1476.95 944.57 1476.95 966.65 A42.95 42.95 0 0 0 1562.85 966.65 C1562.85 944.57 1519.9 915.13 1519.9 893.05 A42.95 42.95 0 0 1 1605.8 893.05 C1605.8 915.13 1562.85 944.57 1562.85 966.65 A42.95 42.95 0 0 0 1648.75 966.65 C1648.75 944.57 1605.8 915.13 1605.8 893.05 A42.95 42.95 0 0 1 1691.7 893.05 C1691.7 915.13 1648.75 944.57 1648.75 966.65 A42.95 42.95 0 0 0 1734.65 966.65 C1734.65 944.57 1691.7 915.13 1691.7 893.05 A42.95 42.95 0 0 1 1777.6 893.05 C1777.6 915.13 1734.65 944.57 1734.65 966.65 A42.95 42.95 0 0 0 1820.55 966.65 C1820.55 944.57 1777.6 915.13 1777.6 893.05 A42.95 42.95 0 0 1 1863.5 893.05 C1863.5 915.13 1820.55 944.57 1820.55 966.65 A42.95 42.95 0 0 0 1906.45 966.65 C1906.45 944.57 1863.5 915.13 1863.5 893.05 A42.95 42.95 0 0 1 1949.4 893.05 C1949.4 915.13 1906.45 944.57 1906.45 966.65 A42.95 42.95 0 0 0 1992.35 966.65 C1992.35 944.57 1949.4 915.13 1949.4 893.05 A42.95 42.95 0 0 1 2035.3 893.05 C2035.3 915.13 1992.35 944.57 1992.35 966.65 A42.95 42.95 0 0 0 2078.25 966.65 C2078.25 944.57 2035.3 915.13 2035.3 893.05" fill="none" stroke="#101010" stroke-width="1.15" clip-path="url(#c7)"/>
<line x1="1015" y1="842.6" x2="1100" y2="842.6" stroke="#111" stroke-width="1" />
<line x1="1814.6" y1="843" x2="1814.6" y2="1261.3" stroke="#999" stroke-width="0.7" stroke-dasharray="1 1.5"/>
<path d="M638.5 381.14 V1645.9 H762.3" fill="none" stroke="#111" stroke-width="1.3" />
<path d="M649.2 381.85 V1636.8 H762.3" fill="none" stroke="#333" stroke-width="1.4" />
<path d="M643.6 392h0.9M640 398.1h0.9M647 398.1h0.9M643.6 404.3h0.9M640 410.4h0.9M647 410.4h0.9M643.6 416.6h0.9M640 422.7h0.9M647 422.7h0.9M643.6 428.9h0.9M640 435h0.9M647 435h0.9M643.6 441.2h0.9M640 447.3h0.9M647 447.3h0.9M643.6 453.5h0.9M640 459.6h0.9M647 459.6h0.9M643.6 465.8h0.9M640 471.9h0.9M647 471.9h0.9M643.6 478.1h0.9M640 484.2h0.9M647 484.2h0.9M643.6 490.4h0.9M640 496.5h0.9M647 496.5h0.9M643.6 502.7h0.9M640 508.8h0.9M647 508.8h0.9M643.6 515h0.9M640 521.1h0.9M647 521.1h0.9M643.6 527.3h0.9M640 533.4h0.9M647 533.4h0.9M643.6 539.6h0.9M640 545.7h0.9M647 545.7h0.9M643.6 551.9h0.9M640 558h0.9M647 558h0.9M643.6 564.2h0.9M640 570.3h0.9M647 570.3h0.9M643.6 576.5h0.9M640 582.6h0.9M647 582.6h0.9M643.6 588.8h0.9M640 594.9h0.9M647 594.9h0.9M643.6 601.1h0.9M640 607.2h0.9M647 607.2h0.9M643.6 613.4h0.9M640 619.5h0.9M647 619.5h0.9M643.6 625.7h0.9M640 631.8h0.9M647 631.8h0.9M643.6 638h0.9M640 644.1h0.9M647 644.1h0.9M643.6 650.3h0.9M640 656.4h0.9M647 656.4h0.9M643.6 662.6h0.9M640 668.7h0.9M647 668.7h0.9M643.6 674.9h0.9M640 681h0.9M647 681h0.9M643.6 687.2h0.9M640 693.3h0.9M647 693.3h0.9M643.6 699.5h0.9M640 705.6h0.9M647 705.6h0.9M643.6 711.8h0.9M640 717.9h0.9M647 717.9h0.9M643.6 724.1h0.9M640 730.2h0.9M647 730.2h0.9M643.6 736.4h0.9M640 742.5h0.9M647 742.5h0.9M643.6 748.7h0.9M640 754.8h0.9M647 754.8h0.9M643.6 761h0.9M640 767.1h0.9M647 767.1h0.9M643.6 773.3h0.9M640 779.4h0.9M647 779.4h0.9M643.6 785.6h0.9M640 791.7h0.9M647 791.7h0.9M643.6 797.9h0.9M640 804h0.9M647 804h0.9M643.6 810.2h0.9M640 816.3h0.9M647 816.3h0.9M643.6 822.5h0.9M640 828.6h0.9M647 828.6h0.9M643.6 834.8h0.9M640 840.9h0.9M647 840.9h0.9M643.6 847.1h0.9M640 853.2h0.9M647 853.2h0.9M643.6 859.4h0.9M640 865.5h0.9M647 865.5h0.9M643.6 871.7h0.9M640 877.8h0.9M647 877.8h0.9M643.6 884h0.9M640 890.1h0.9M647 890.1h0.9M643.6 896.3h0.9M640 902.4h0.9M647 902.4h0.9M643.6 908.6h0.9M640 914.7h0.9M647 914.7h0.9M643.6 920.9h0.9M640 927h0.9M647 927h0.9M643.6 933.2h0.9M640 939.3h0.9M647 939.3h0.9M643.6 945.5h0.9M640 951.6h0.9M647 951.6h0.9M643.6 957.8h0.9M640 963.9h0.9M647 963.9h0.9M643.6 970.1h0.9M640 976.2h0.9M647 976.2h0.9M643.6 982.4h0.9M640 988.5h0.9M647 988.5h0.9M643.6 994.7h0.9M640 1000.8h0.9M647 1000.8h0.9M643.6 1007h0.9M640 1013.1h0.9M647 1013.1h0.9M643.6 1019.3h0.9M640 1025.4h0.9M647 1025.4h0.9M643.6 1031.6h0.9M640 1037.7h0.9M647 1037.7h0.9M643.6 1043.9h0.9M640 1050h0.9M647 1050h0.9M643.6 1056.2h0.9M640 1062.3h0.9M647 1062.3h0.9M643.6 1068.5h0.9M640 1074.6h0.9M647 1074.6h0.9M643.6 1080.8h0.9M640 1086.9h0.9M647 1086.9h0.9M643.6 1093.1h0.9M640 1099.2h0.9M647 1099.2h0.9M643.6 1105.4h0.9M640 1111.5h0.9M647 1111.5h0.9M643.6 1117.7h0.9M640 1123.8h0.9M647 1123.8h0.9M643.6 1130h0.9M640 1136.1h0.9M647 1136.1h0.9M643.6 1142.3h0.9M640 1148.4h0.9M647 1148.4h0.9M643.6 1154.6h0.9M640 1160.7h0.9M647 1160.7h0.9M643.6 1166.9h0.9M640 1173h0.9M647 1173h0.9M643.6 1179.2h0.9M640 1185.3h0.9M647 1185.3h0.9M643.6 1191.5h0.9M640 1197.6h0.9M647 1197.6h0.9M643.6 1203.8h0.9M640 1209.9h0.9M647 1209.9h0.9M643.6 1216.1h0.9M640 1222.2h0.9M647 1222.2h0.9M643.6 1228.4h0.9M640 1234.5h0.9M647 1234.5h0.9M643.6 1240.7h0.9M640 1246.8h0.9M647 1246.8h0.9M643.6 1253h0.9M640 1259.1h0.9M647 1259.1h0.9M643.6 1265.3h0.9M640 1271.4h0.9M647 1271.4h0.9M643.6 1277.6h0.9M640 1283.7h0.9M647 1283.7h0.9M643.6 1289.9h0.9M640 1296h0.9M647 1296h0.9M643.6 1302.2h0.9M640 1308.3h0.9M647 1308.3h0.9M643.6 1314.5h0.9M640 1320.6h0.9M647 1320.6h0.9M643.6 1326.8h0.9M640 1332.9h0.9M647 1332.9h0.9M643.6 1339.1h0.9M640 1345.2h0.9M647 1345.2h0.9M643.6 1351.4h0.9M640 1357.5h0.9M647 1357.5h0.9M643.6 1363.7h0.9M640 1369.8h0.9M647 1369.8h0.9M643.6 1376h0.9M640 1382.1h0.9M647 1382.1h0.9M643.6 1388.3h0.9M640 1394.4h0.9M647 1394.4h0.9M643.6 1400.6h0.9M640 1406.7h0.9M647 1406.7h0.9M643.6 1412.9h0.9M640 1419h0.9M647 1419h0.9M643.6 1425.2h0.9M640 1431.3h0.9M647 1431.3h0.9M643.6 1437.5h0.9M640 1443.6h0.9M647 1443.6h0.9M643.6 1449.8h0.9M640 1455.9h0.9M647 1455.9h0.9M643.6 1462.1h0.9M640 1468.2h0.9M647 1468.2h0.9M643.6 1474.4h0.9M640 1480.5h0.9M647 1480.5h0.9M643.6 1486.7h0.9M640 1492.8h0.9M647 1492.8h0.9M643.6 1499h0.9M640 1505.1h0.9M647 1505.1h0.9M643.6 1511.3h0.9M640 1517.4h0.9M647 1517.4h0.9M643.6 1523.6h0.9M640 1529.7h0.9M647 1529.7h0.9M643.6 1535.9h0.9M640 1542h0.9M647 1542h0.9M643.6 1548.2h0.9M640 1554.3h0.9M647 1554.3h0.9M643.6 1560.5h0.9M640 1566.6h0.9M647 1566.6h0.9M643.6 1572.8h0.9M640 1578.9h0.9M647 1578.9h0.9M643.6 1585.1h0.9M640 1591.2h0.9M647 1591.2h0.9M643.6 1597.4h0.9M640 1603.5h0.9M647 1603.5h0.9M643.6 1609.7h0.9M640 1615.8h0.9M647 1615.8h0.9M643.6 1622h0.9M640 1628.1h0.9M647 1628.1h0.9M643.6 1634.3h0.9M640 1640.4h0.9M647 1640.4h0.9M655 1641.4h0.9M662 1641.4h0.9M669 1641.4h0.9M676 1641.4h0.9M683 1641.4h0.9M690 1641.4h0.9M697 1641.4h0.9M704 1641.4h0.9M711 1641.4h0.9M718 1641.4h0.9M725 1641.4h0.9M732 1641.4h0.9M739 1641.4h0.9M746 1641.4h0.9M753 1641.4h0.9" stroke="#858585" stroke-width="1.2" fill="none"/>
<line x1="638.5" y1="1648.2" x2="638.5" y2="1925" stroke="#111" stroke-width="1" />
<line x1="1011" y1="1624.9" x2="1011" y2="1925" stroke="#111" stroke-width="1" />
<polygon points="631.2,365.6 1011.2,389.9 1011.2,404.8 630.3,380.7" fill="#bf9068"  />
<clipPath id="c8"><polygon points="631.2,365.6 1011.2,389.9 1011.2,404.8 630.3,380.7"/></clipPath>
<path d="M628 360L634.2 410M634.55 360L640.75 410M641.1 360L647.3 410M647.65 360L653.85 410M654.2 360L660.4 410M660.75 360L666.95 410M667.3 360L673.5 410M673.85 360L680.05 410M680.4 360L686.6 410M686.95 360L693.15 410M693.5 360L699.7 410M700.05 360L706.25 410M706.6 360L712.8 410M713.15 360L719.35 410M719.7 360L725.9 410M726.25 360L732.45 410M732.8 360L739 410M739.35 360L745.55 410M745.9 360L752.1 410M752.45 360L758.65 410M759 360L765.2 410M765.55 360L771.75 410M772.1 360L778.3 410M778.65 360L784.85 410M785.2 360L791.4 410M791.75 360L797.95 410M798.3 360L804.5 410M804.85 360L811.05 410M811.4 360L817.6 410M817.95 360L824.15 410M824.5 360L830.7 410M831.05 360L837.25 410M837.6 360L843.8 410M844.15 360L850.35 410M850.7 360L856.9 410M857.25 360L863.45 410M863.8 360L870 410M870.35 360L876.55 410M876.9 360L883.1 410M883.45 360L889.65 410M890 360L896.2 410M896.55 360L902.75 410M903.1 360L909.3 410M909.65 360L915.85 410M916.2 360L922.4 410M922.75 360L928.95 410M929.3 360L935.5 410M935.85 360L942.05 410M942.4 360L948.6 410M948.95 360L955.15 410M955.5 360L961.7 410M962.05 360L968.25 410M968.6 360L974.8 410M975.15 360L981.35 410M981.7 360L987.9 410M988.25 360L994.45 410M994.8 360L1001 410M1001.35 360L1007.55 410M1007.9 360L1014.1 410M1014.45 360L1020.65 410" stroke="#6d4a2b" stroke-width="0.8" fill="none" clip-path="url(#c8)"/>
<line x1="630.3" y1="380.7" x2="1011.2" y2="404.8" stroke="#000" stroke-width="1.8" />
<line x1="631.2" y1="365.6" x2="630.3" y2="380.7" stroke="#000" stroke-width="1.2" />
<line x1="1011" y1="404.8" x2="1011" y2="491.5" stroke="#555" stroke-width="1.2" />
<polyline points="601.8,425.6 594.9,432.6 594.9,352.74 1124.2,388.5 1124.2,423.2 1116.4,415.2" fill="none" stroke="#000" stroke-width="1.7" stroke-linejoin="miter"/>
<polyline points="597.7,429.5 597.7,356.33 1121.5,391.69 1121.5,420" fill="none" stroke="#000" stroke-width="0.9" />
<line x1="597.7" y1="359.3" x2="631.2" y2="361.4" stroke="#000" stroke-width="0.9" />
<line x1="597.7" y1="362.6" x2="631.2" y2="364.7" stroke="#000" stroke-width="0.9" />
<line x1="1107.6" y1="395" x2="1107.6" y2="636.7" stroke="#bbb" stroke-width="1" />
<rect x="1046.6" y="941.4" width="99.2" height="65" fill="#fff" stroke="#222" stroke-width="0.9" />
<rect x="226.6" y="884.3" width="1550.4" height="7" fill="#fff"  />
<rect x="226.6" y="998.4" width="1550.4" height="7.2" fill="#fff"  />
<line x1="226.6" y1="884.3" x2="1777" y2="884.3" stroke="#111" stroke-width="1.3" />
<line x1="226.6" y1="891.3" x2="1777" y2="891.3" stroke="#111" stroke-width="1.3" />
<line x1="226.6" y1="998.4" x2="1777" y2="998.4" stroke="#111" stroke-width="1.3" />
<line x1="226.6" y1="1005.6" x2="1777" y2="1005.6" stroke="#111" stroke-width="1.3" />
<line x1="226.6" y1="884.3" x2="226.6" y2="1005.6" stroke="#111" stroke-width="1.1" />
<line x1="227.6" y1="891.3" x2="227.6" y2="998.4" stroke="#111" stroke-width="0.8" />
<line x1="1777" y1="884.3" x2="1777" y2="1005.6" stroke="#111" stroke-width="1.1" />
<line x1="1777.8" y1="891.3" x2="1777.8" y2="1009" stroke="#444" stroke-width="0.9" />
<rect x="233.4" y="891.3" width="8.5" height="107.1" fill="#fff" stroke="#111" stroke-width="1" />
<line x1="233.4" y1="902" x2="241.9" y2="902" stroke="#111" stroke-width="0.9" />
<line x1="233.4" y1="987.6" x2="241.9" y2="987.6" stroke="#111" stroke-width="0.9" />
<rect x="357.9" y="891.3" width="7.9" height="107.1" fill="#fff" stroke="#111" stroke-width="1" />
<line x1="357.9" y1="902" x2="365.8" y2="902" stroke="#111" stroke-width="0.9" />
<line x1="357.9" y1="987.6" x2="365.8" y2="987.6" stroke="#111" stroke-width="0.9" />
<rect x="797.6" y="891.3" width="8.1" height="107.1" fill="#fff" stroke="#111" stroke-width="1" />
<line x1="797.6" y1="902" x2="805.7" y2="902" stroke="#111" stroke-width="0.9" />
<line x1="797.6" y1="987.6" x2="805.7" y2="987.6" stroke="#111" stroke-width="0.9" />
<rect x="918.6" y="891.3" width="7" height="107.1" fill="#fff" stroke="#111" stroke-width="1" />
<line x1="918.6" y1="902" x2="925.6" y2="902" stroke="#111" stroke-width="0.9" />
<line x1="918.6" y1="987.6" x2="925.6" y2="987.6" stroke="#111" stroke-width="0.9" />
<rect x="1571" y="891.3" width="7.7" height="107.1" fill="#fff" stroke="#111" stroke-width="1" />
<line x1="1571" y1="902" x2="1578.7" y2="902" stroke="#111" stroke-width="0.9" />
<line x1="1571" y1="987.6" x2="1578.7" y2="987.6" stroke="#111" stroke-width="0.9" />
<rect x="1762.4" y="891.3" width="8.2" height="107.1" fill="#fff" stroke="#111" stroke-width="1" />
<line x1="1762.4" y1="902" x2="1770.6" y2="902" stroke="#111" stroke-width="0.9" />
<line x1="1762.4" y1="987.6" x2="1770.6" y2="987.6" stroke="#111" stroke-width="0.9" />
<line x1="1767.5" y1="891.3" x2="1767.5" y2="998.4" stroke="#111" stroke-width="0.7" />
<line x1="638.5" y1="880" x2="638.5" y2="1010" stroke="#111" stroke-width="1.3" />
<line x1="649.2" y1="880" x2="649.2" y2="1010" stroke="#333" stroke-width="1.4" />
<rect x="797.6" y="1005.7" width="128" height="6.9" fill="#fff" stroke="#111" stroke-width="1" />
<rect x="1056.7" y="1005.6" width="7.8" height="68.8" fill="#fff" stroke="#111" stroke-width="1.05" />
<line x1="1056.7" y1="1032" x2="1064.5" y2="1032" stroke="#111" stroke-width="1.05" />
<rect x="1052.4" y="1003.6" width="16.4" height="2.2" fill="#fff" stroke="#111" stroke-width="0.95" />
<rect x="1054.7" y="999" width="11.8" height="4.6" fill="#fff" stroke="#111" stroke-width="1.05" />
<line x1="1060.1" y1="999" x2="1060.1" y2="1003.6" stroke="#111" stroke-width="0.95" />
<rect x="1057" y="996" width="7.2" height="3" fill="#fff" stroke="#222" stroke-width="0.7" />
<rect x="1127.6" y="1005.6" width="7.8" height="68.8" fill="#fff" stroke="#111" stroke-width="1.05" />
<line x1="1127.6" y1="1032" x2="1135.4" y2="1032" stroke="#111" stroke-width="1.05" />
<rect x="1123.3" y="1003.6" width="16.4" height="2.2" fill="#fff" stroke="#111" stroke-width="0.95" />
<rect x="1125.6" y="999" width="11.8" height="4.6" fill="#fff" stroke="#111" stroke-width="1.05" />
<line x1="1131" y1="999" x2="1131" y2="1003.6" stroke="#111" stroke-width="0.95" />
<rect x="1127.9" y="996" width="7.2" height="3" fill="#fff" stroke="#222" stroke-width="0.7" />
<rect x="1608.1" y="1005.6" width="11.6" height="96" fill="#fff" stroke="#111" stroke-width="1.05" />
<line x1="1608.1" y1="1041.3" x2="1619.7" y2="1041.3" stroke="#111" stroke-width="1.05" />
<rect x="1602.7" y="996.3" width="22.4" height="2.2" fill="#fff" stroke="#111" stroke-width="0.95" />
<rect x="1605" y="987.1" width="17.8" height="9.2" fill="#fff" stroke="#111" stroke-width="1.05" />
<line x1="1613.4" y1="987.1" x2="1613.4" y2="996.3" stroke="#111" stroke-width="0.95" />
<rect x="1608.4" y="984.1" width="11" height="3" fill="#fff" stroke="#222" stroke-width="0.7" />
<rect x="1721.9" y="1005.6" width="11.6" height="96" fill="#fff" stroke="#111" stroke-width="1.05" />
<line x1="1721.9" y1="1041.3" x2="1733.5" y2="1041.3" stroke="#111" stroke-width="1.05" />
<rect x="1716.5" y="996.3" width="22.4" height="2.2" fill="#fff" stroke="#111" stroke-width="0.95" />
<rect x="1718.8" y="987.1" width="17.8" height="9.2" fill="#fff" stroke="#111" stroke-width="1.05" />
<line x1="1727.2" y1="987.1" x2="1727.2" y2="996.3" stroke="#111" stroke-width="0.95" />
<rect x="1722.2" y="984.1" width="11" height="3" fill="#fff" stroke="#222" stroke-width="0.7" />
<rect x="0" y="0" width="0" height="0" fill="none" stroke="#111" stroke-width="1" />
<polygon points="631.2,358.3 654.2,359.8 654.2,367.3 631.2,365.8" fill="#000"/>
<polyline points="1100.8,841.3 1814.6,841.3" fill="none" stroke="#000" stroke-width="4.4" stroke-linejoin="miter"/>
<polyline points="1100.8,841.3 1814.6,841.3" fill="none" stroke="#fff" stroke-width="1.4" stroke-dasharray="12.6 15.9" stroke-dashoffset="-8"/>
<polyline points="654,365.12 1100.8,394.31 1100.8,843.4" fill="none" stroke="#000" stroke-width="4.0" stroke-linejoin="miter"/>
<polyline points="654,365.12 1100.8,394.31 1100.8,843.4" fill="none" stroke="#fff" stroke-width="2.2" stroke-dasharray="13.3 15.2" stroke-dashoffset="-2.3"/>
<polyline points="762.3,479.9 1013.5,493.4" fill="none" stroke="#000" stroke-width="4.7" stroke-linejoin="miter"/>
<polyline points="762.3,479.9 1013.5,493.4" fill="none" stroke="#c4c4c4" stroke-width="1.3" stroke-dasharray="13.2 15.5" stroke-dashoffset="5"/>
<polyline points="1012.6,491.3 1012.6,845" fill="none" stroke="#000" stroke-width="4.7" stroke-linejoin="miter"/>
<polyline points="1012.6,491.3 1012.6,845" fill="none" stroke="#fff" stroke-width="1.9" stroke-dasharray="13 15.9" stroke-dashoffset="-21.7"/>
<polyline points="1010.8,1011.3 1814.6,1011.3" fill="none" stroke="#000" stroke-width="4.8" stroke-linejoin="miter"/>
<polyline points="1010.8,1011.3 1814.6,1011.3" fill="none" stroke="#fff" stroke-width="1.9" stroke-dasharray="13.4 15.3" stroke-dashoffset="-21"/>
<line x1="1012.6" y1="843" x2="1012.6" y2="1009.4" stroke="#000" stroke-width="4.7" />
<line x1="1012.6" y1="846" x2="1012.6" y2="1008" stroke="#fff" stroke-width="1.2" stroke-dasharray="1.3 2.2"/>
<rect x="170" y="664.7" width="120.9" height="91.9" fill="#fff"  />
<polyline points="170,763.4 170,664.7 290.9,664.7 290.9,756.6 234,756.6" fill="none" stroke="#161616" stroke-width="1" />
<line x1="233.4" y1="664.7" x2="233.4" y2="756.6" stroke="#161616" stroke-width="1" />
<line x1="234.8" y1="664.7" x2="234.8" y2="756.6" stroke="#161616" stroke-width="0.9" />
<line x1="170" y1="742.6" x2="290.9" y2="742.6" stroke="#161616" stroke-width="1" />
<line x1="170" y1="749.4" x2="290.9" y2="749.4" stroke="#161616" stroke-width="1" />
<line x1="223.6" y1="352.8" x2="223.6" y2="1925" stroke="#111" stroke-width="1" />
<polygon points="262.3,675.4 271.48,680.7 271.48,691.3 262.3,696.6 253.12,691.3 253.12,680.7" fill="#fff" stroke="#161616" stroke-width="1" />
<polygon points="262.3,710.7 271.48,716 271.48,726.6 262.3,731.9 253.12,726.6 253.12,716" fill="#fff" stroke="#161616" stroke-width="1" />
<polygon points="191.4,689.4 200.58,694.7 200.58,705.3 191.4,710.6 182.22,705.3 182.22,694.7" fill="#fff" stroke="#161616" stroke-width="1" />
<line x1="185" y1="688.5" x2="185" y2="711.5" stroke="#161616" stroke-width="0.9" />
<line x1="198" y1="688.5" x2="198" y2="711.5" stroke="#161616" stroke-width="0.9" />
<rect x="159.4" y="763.4" width="64.2" height="7.6" fill="#fff" stroke="#161616" stroke-width="1" />
<line x1="173.5" y1="763.4" x2="173.5" y2="771" stroke="#161616" stroke-width="0.9" />
<rect x="185.5" y="740.4" width="12.4" height="30.6" fill="#fff" stroke="#161616" stroke-width="1" />
<line x1="187" y1="740.4" x2="187" y2="771" stroke="#161616" stroke-width="0.7" />
<line x1="196.4" y1="740.4" x2="196.4" y2="771" stroke="#161616" stroke-width="0.7" />
<rect x="185.8" y="723.7" width="11.8" height="7" fill="#fff" stroke="#161616" stroke-width="0.9" />
<rect x="180.6" y="730.7" width="21.9" height="9.7" fill="#fff" stroke="#161616" stroke-width="1" />
<line x1="186" y1="730.7" x2="186" y2="740.4" stroke="#161616" stroke-width="0.8" />
<line x1="197.2" y1="730.7" x2="197.2" y2="740.4" stroke="#161616" stroke-width="0.8" />
<rect x="180.6" y="771" width="21.9" height="10" fill="#fff" stroke="#161616" stroke-width="1" />
<line x1="186" y1="771" x2="186" y2="781" stroke="#161616" stroke-width="0.8" />
<line x1="197.2" y1="771" x2="197.2" y2="781" stroke="#161616" stroke-width="0.8" />
<rect x="226.6" y="756.6" width="71.1" height="127.5" rx="11" ry="11" fill="#fff" stroke="#161616" stroke-width="1.1"/>
<rect x="232.5" y="762.3" width="60.1" height="116.1" rx="7" ry="7" fill="#fff" stroke="#161616" stroke-width="1.1"/>
<line x1="226.6" y1="775" x2="232.5" y2="775" stroke="#161616" stroke-width="0.9" />
<line x1="226.6" y1="802" x2="232.5" y2="802" stroke="#161616" stroke-width="0.9" />
<line x1="226.6" y1="829.5" x2="232.5" y2="829.5" stroke="#161616" stroke-width="0.9" />
<line x1="226.6" y1="857" x2="232.5" y2="857" stroke="#161616" stroke-width="0.9" />
<path d="M297.7 884.1 V760.5 Q297.7 756.6 301.4 756.6 Q305.2 756.6 305.2 760.5 V865 Q305.2 877.8 318 877.8 H356.5 Q361.9 877.8 361.9 884.1 Z" fill="#fff" stroke="#161616" stroke-width="1.1" />
<line x1="299.6" y1="758" x2="299.6" y2="884.1" stroke="#161616" stroke-width="0.8" />
<polyline points="305.2,763.4 311.6,763.4 354.8,861.7 354.8,877.8" fill="none" stroke="#161616" stroke-width="1" />
<rect x="279.7" y="778.9" width="12.3" height="21" fill="#fff" stroke="#161616" stroke-width="0.9" />
<line x1="279.7" y1="783.4" x2="292" y2="783.4" stroke="#161616" stroke-width="0.7" />
<line x1="279.7" y1="795.4" x2="292" y2="795.4" stroke="#161616" stroke-width="0.7" />
<rect x="275.6" y="783.4" width="4.1" height="12" fill="#fff" stroke="#161616" stroke-width="0.8" />
<rect x="305.2" y="778.9" width="9.8" height="21" fill="#fff" stroke="#161616" stroke-width="0.9" />
<line x1="305.2" y1="783.4" x2="315" y2="783.4" stroke="#161616" stroke-width="0.7" />
<line x1="305.2" y1="795.4" x2="315" y2="795.4" stroke="#161616" stroke-width="0.7" />
<rect x="292" y="783.4" width="13.2" height="12" fill="#fff" stroke="#161616" stroke-width="0.9" />
<line x1="292" y1="784.4" x2="305.2" y2="784.4" stroke="#161616" stroke-width="0.6" />
<line x1="292" y1="794.4" x2="305.2" y2="794.4" stroke="#161616" stroke-width="0.6" />
<rect x="279.7" y="834.5" width="12.3" height="21" fill="#fff" stroke="#161616" stroke-width="0.9" />
<line x1="279.7" y1="839" x2="292" y2="839" stroke="#161616" stroke-width="0.7" />
<line x1="279.7" y1="851" x2="292" y2="851" stroke="#161616" stroke-width="0.7" />
<rect x="275.6" y="839" width="4.1" height="12" fill="#fff" stroke="#161616" stroke-width="0.8" />
<rect x="305.2" y="834.5" width="9.8" height="21" fill="#fff" stroke="#161616" stroke-width="0.9" />
<line x1="305.2" y1="839" x2="315" y2="839" stroke="#161616" stroke-width="0.7" />
<line x1="305.2" y1="851" x2="315" y2="851" stroke="#161616" stroke-width="0.7" />
<rect x="292" y="839" width="13.2" height="12" fill="#fff" stroke="#161616" stroke-width="0.9" />
<line x1="292" y1="840" x2="305.2" y2="840" stroke="#161616" stroke-width="0.6" />
<line x1="292" y1="850" x2="305.2" y2="850" stroke="#161616" stroke-width="0.6" />
<rect x="327.3" y="877.8" width="11.9" height="32.4" fill="#fff" stroke="#161616" stroke-width="0.9" />
<line x1="328.6" y1="877.8" x2="328.6" y2="903" stroke="#161616" stroke-width="0.7" />
<line x1="337.9" y1="877.8" x2="337.9" y2="903" stroke="#161616" stroke-width="0.7" />
<rect x="322.4" y="867.6" width="21.6" height="7.8" fill="#fff" stroke="#161616" stroke-width="0.9" />
<line x1="327.6" y1="867.6" x2="327.6" y2="875.4" stroke="#161616" stroke-width="0.8" />
<line x1="338.8" y1="867.6" x2="338.8" y2="875.4" stroke="#161616" stroke-width="0.8" />
<rect x="322.4" y="875.4" width="21.6" height="2.4" fill="#fff" stroke="#161616" stroke-width="0.8" />
<rect x="322.4" y="893.2" width="21.6" height="10.2" fill="#fff" stroke="#161616" stroke-width="0.9" />
<line x1="327.6" y1="893.2" x2="327.6" y2="903.4" stroke="#161616" stroke-width="0.8" />
<line x1="338.8" y1="893.2" x2="338.8" y2="903.4" stroke="#161616" stroke-width="0.8" />
<line x1="226.6" y1="884.3" x2="582" y2="884.3" stroke="#111" stroke-width="1.1" />
<rect x="762.3" y="1615.6" width="53.4" height="30.6" fill="#fff" stroke="#0a0a0a" stroke-width="1.5" />
<rect x="762.3" y="1646.2" width="60.8" height="56.2" fill="#fff"  />
<path d="M762.9 1706 V1646.2 H822.7 V1702.4" fill="none" stroke="#0a0a0a" stroke-width="1.6" />
<rect x="762.3" y="1615.6" width="53.4" height="10.9" fill="#fff" stroke="#0a0a0a" stroke-width="1.6" />
<path d="M763 1617L765.2 1625.6L767.4 1616.8L769.6 1625.6L771.8 1616.8L774 1625.6L776.2 1616.8L778.4 1625.6L780.6 1616.8L782.8 1625.6L785 1616.8L787.2 1625.6L789.4 1616.8L791.6 1625.6L793.8 1616.8L796 1625.6L798.2 1616.8L800.4 1625.6L802.6 1616.8L804.8 1625.6L807 1616.8L809.2 1625.6L811.4 1616.8L813.6 1625.6L815.8 1616.8" fill="none" stroke="#0a0a0a" stroke-width="1.5" />
<rect x="763.6" y="1631.9" width="6.8" height="12.7" fill="#fff" stroke="#0a0a0a" stroke-width="1.5" />
<rect x="802.9" y="1631.9" width="11.6" height="12.7" fill="#fff" stroke="#0a0a0a" stroke-width="1.5" />
<rect x="771.8" y="1628" width="29.6" height="18.2" fill="#fff" stroke="#0a0a0a" stroke-width="1.6" />
<rect x="776.1" y="1631.1" width="20.9" height="13.9" fill="#b4b4b4" stroke="#0a0a0a" stroke-width="1.7" />
<line x1="770.4" y1="1628.6" x2="802.9" y2="1628.6" stroke="#0a0a0a" stroke-width="2.0" stroke-dasharray="4.2 1.4"/>
<line x1="763" y1="1629" x2="771" y2="1629" stroke="#0a0a0a" stroke-width="1.5" />
<line x1="803" y1="1629.5" x2="815" y2="1629.5" stroke="#555" stroke-width="1.5" />
<line x1="771.5" y1="1646.4" x2="802" y2="1646.4" stroke="#0a0a0a" stroke-width="2.4" />
<path d="M769.5 1646.5 L778 1664 M801.5 1648 L795.3 1658.5" fill="none" stroke="#0a0a0a" stroke-width="2.4" />
<path d="M772 1651 L777.5 1662" fill="none" stroke="#fff" stroke-width="0.7" stroke-dasharray="1.2 1.2"/>
<rect x="778.6" y="1649" width="18.4" height="8.4" fill="#fff" stroke="#0a0a0a" stroke-width="1.3" />
<line x1="789" y1="1649" x2="789" y2="1657.4" stroke="#0a0a0a" stroke-width="2.0" />
<rect x="779.2" y="1653" width="3.8" height="3.3" fill="#fff" stroke="#0a0a0a" stroke-width="1.4" />
<line x1="780" y1="1659.6" x2="794" y2="1659.6" stroke="#0a0a0a" stroke-width="1.6" />
<rect x="780.3" y="1662" width="14.7" height="6" fill="#fff" stroke="#0a0a0a" stroke-width="1.5" />
<line x1="784.3" y1="1662" x2="784.3" y2="1668" stroke="#0a0a0a" stroke-width="1.8" />
<line x1="789.6" y1="1662" x2="789.6" y2="1668" stroke="#0a0a0a" stroke-width="1.8" />
<path d="M795 1659.8 L797.5 1667.5" fill="none" stroke="#0a0a0a" stroke-width="1.8" />
<path d="M801 1649.6 H805.6 M812.5 1649.8 H818.5 M800.5 1662.5 H804 M816.5 1662 H821.5 M801.4 1662.5 V1667.6" fill="none" stroke="#0a0a0a" stroke-width="2.0" />
<polygon points="818.6,1646.8 822.9,1646.8 822.9,1653.6 819.6,1653.6 816.2,1648.4" fill="#0a0a0a"  />
<rect x="801.6" y="1667.6" width="19.8" height="14.2" fill="#fff" stroke="#0a0a0a" stroke-width="1.6" />
<line x1="763" y1="1662.3" x2="766.5" y2="1662.3" stroke="#0a0a0a" stroke-width="2.2" />
<line x1="764.5" y1="1666.8" x2="776" y2="1666.8" stroke="#0a0a0a" stroke-width="2.0" />
<path d="M763.4 1668.8 H767.3 V1675.8 H763.4" fill="none" stroke="#0a0a0a" stroke-width="1.6" />
<line x1="763" y1="1680.9" x2="771.5" y2="1680.9" stroke="#333" stroke-width="1.2" />
<rect x="772" y="1668.2" width="28.4" height="14.4" fill="#fff" stroke="#0a0a0a" stroke-width="2.0" />
<polygon points="773.6,1674.8 777,1671.3 777,1678.3" fill="#fff" stroke="#0a0a0a" stroke-width="0.8" />
<polygon points="799,1674.8 795.8,1671.3 795.8,1678.3" fill="#fff" stroke="#0a0a0a" stroke-width="0.8" />
<rect x="777.9" y="1670.8" width="17.2" height="7.9" fill="#b4b4b4" stroke="#0a0a0a" stroke-width="1.6" />
<line x1="774" y1="1681.4" x2="799" y2="1681.4" stroke="#fff" stroke-width="0.9" stroke-dasharray="4 2.2" stroke-dashoffset="-3"/>
<line x1="771.5" y1="1683.2" x2="823" y2="1683.2" stroke="#0a0a0a" stroke-width="1.8" />
<polygon points="766.2,1684.1 808,1684.1 804.7,1692 798.5,1686 766.2,1686" fill="#b8b8b8"  />
<path d="M763.8 1692.4L765.35 1686.2L766.9 1692.4L768.45 1686.2L770 1692.4L771.55 1686.2L773.1 1692.4L774.65 1686.2L776.2 1692.4L777.75 1686.2L779.3 1692.4L780.85 1686.2L782.4 1692.4L783.95 1686.2L785.5 1692.4L787.05 1686.2L788.6 1692.4L790.15 1686.2L791.7 1692.4L793.25 1686.2L794.8 1692.4L796.35 1686.2L797.9 1692.4L799.45 1686.2L801 1692.4" fill="none" stroke="#0a0a0a" stroke-width="1.1" />
<line x1="798.5" y1="1686" x2="805" y2="1692.8" stroke="#0a0a0a" stroke-width="1.0" />
<line x1="763" y1="1692.8" x2="811" y2="1692.8" stroke="#0a0a0a" stroke-width="1.0" />
<polygon points="762.3,1694.8 770.2,1697 770.2,1705.4 762.3,1702.8" fill="#0a0a0a"  />
<polygon points="810.4,1690.5 813.5,1688 816.5,1684.2 822.9,1684.2 822.9,1702.6 810.6,1703.6" fill="#0a0a0a"  />
<polygon points="813.6,1686.2 817.2,1685.4 821.3,1691 821.3,1700.5 818.8,1701.2" fill="#fff"  />
<rect x="820" y="1690.8" width="2" height="2.7" fill="#0a0a0a"  />
<polygon points="804.8,1693.5 808.6,1693.5 810.2,1701 806.4,1701" fill="#fff" stroke="#555" stroke-width="0.8" />
<rect x="780.6" y="1695.2" width="8.8" height="3.6" fill="#fff" stroke="#0a0a0a" stroke-width="1.7" />
<rect x="794.2" y="1695.2" width="9" height="3.6" fill="#fff" stroke="#0a0a0a" stroke-width="1.7" />
<line x1="779.8" y1="1693.6" x2="790" y2="1693.6" stroke="#0a0a0a" stroke-width="1.6" />
<line x1="793.3" y1="1693.6" x2="804" y2="1693.6" stroke="#0a0a0a" stroke-width="1.6" />
<line x1="762.9" y1="1702" x2="762.9" y2="1925" stroke="#1c1c1c" stroke-width="1.3" />
<line x1="770.6" y1="1692.8" x2="770.6" y2="1925" stroke="#1c1c1c" stroke-width="1.2" />
<line x1="779.6" y1="1692.8" x2="779.6" y2="1925" stroke="#1c1c1c" stroke-width="1.3" />
<line x1="790" y1="1692.8" x2="790" y2="1925" stroke="#1c1c1c" stroke-width="1.3" />
<line x1="793.3" y1="1692.8" x2="793.3" y2="1925" stroke="#1c1c1c" stroke-width="1.3" />
<line x1="803.9" y1="1692.8" x2="803.9" y2="1925" stroke="#1c1c1c" stroke-width="1.3" />
<line x1="810.3" y1="1701" x2="810.3" y2="1925" stroke="#1c1c1c" stroke-width="1.2" />
<line x1="822.6" y1="1702" x2="822.6" y2="1925" stroke="#1c1c1c" stroke-width="1.3" />
<line x1="806.6" y1="1700" x2="806.6" y2="1925" stroke="#888" stroke-width="0.9" />
<line x1="762.3" y1="727.4" x2="1011" y2="1012" stroke="#111" stroke-width="1" />
<line x1="762.3" y1="1010.5" x2="1011" y2="733.8" stroke="#111" stroke-width="1" />
<line x1="515" y1="20.5" x2="965.2" y2="20.5" stroke="#141414" stroke-width="1.1" />
<line x1="965.2" y1="20" x2="965.2" y2="377.74" stroke="#606060" stroke-width="1.4" />
<polyline points="515,90.6 940.4,90.6 940.4,383" fill="none" stroke="#141414" stroke-width="1.12" />
<polyline points="515,139.5 922.7,139.5 922.7,398.6" fill="none" stroke="#141414" stroke-width="1.12" />
<polyline points="515,207.9 889.7,207.9 889.7,442" fill="none" stroke="#141414" stroke-width="1.12" />
<polyline points="515,256.3 849.6,256.3 849.6,484" fill="none" stroke="#141414" stroke-width="1.12" />
<polyline points="515,325.3 626.5,325.3 626.5,364.4" fill="none" stroke="#141414" stroke-width="1.12" />
<polyline points="1231,453.7 1588,453.7 1588,735.7" fill="none" stroke="#141414" stroke-width="1.12" />
<polyline points="1231.8,548.4 1553.2,548.4 1553.2,838.7" fill="none" stroke="#141414" stroke-width="1.12" />
<polyline points="1231.8,598.9 1517.6,598.9 1517.6,913" fill="none" stroke="#141414" stroke-width="1.12" />
<polyline points="1232,663.3 1481.8,663.3 1481.8,1008" fill="none" stroke="#555" stroke-width="1.1" />
<line x1="1107.6" y1="636.7" x2="1221.7" y2="636.7" stroke="#555" stroke-width="1.1" />
<line x1="1657" y1="636.4" x2="1814.5" y2="636.4" stroke="#555" stroke-width="1.1" />
<polyline points="473.8,554.1 310.2,554.1 188.8,664.7" fill="none" stroke="#141414" stroke-width="1.12" />
<polyline points="360.2,595 615.7,595 852,807" fill="none" stroke="#141414" stroke-width="1.12" />
<polyline points="527.8,698.2 365.2,698.2 300.6,756.6" fill="none" stroke="#141414" stroke-width="1.12" />
<polyline points="528.3,1048.5 364.6,1048.5 262.3,878.4" fill="none" stroke="#141414" stroke-width="1.12" />
<line x1="558.9" y1="468.8" x2="558.9" y2="570.5" stroke="#5a5a5a" stroke-width="1.3" />
<line x1="558.9" y1="618.5" x2="558.9" y2="1925" stroke="#5a5a5a" stroke-width="1.3" />
<line x1="545.3" y1="479.7" x2="572.5" y2="479.7" stroke="#5a5a5a" stroke-width="1.3" />
<line x1="551.6" y1="472.4" x2="566.2" y2="487" stroke="#111" stroke-width="0.9" />
<line x1="545.3" y1="493.8" x2="572.5" y2="493.8" stroke="#5a5a5a" stroke-width="1.3" />
<line x1="551.6" y1="486.5" x2="566.2" y2="501.1" stroke="#111" stroke-width="0.9" />
<line x1="545.3" y1="1012.5" x2="572.5" y2="1012.5" stroke="#5a5a5a" stroke-width="1.3" />
<line x1="551.6" y1="1005.2" x2="566.2" y2="1019.8" stroke="#111" stroke-width="0.9" />
<line x1="545.3" y1="1261.4" x2="572.5" y2="1261.4" stroke="#5a5a5a" stroke-width="1.3" />
<line x1="551.6" y1="1254.1" x2="566.2" y2="1268.7" stroke="#111" stroke-width="0.9" />
<line x1="552.2" y1="1615.7" x2="572.7" y2="1615.7" stroke="#5a5a5a" stroke-width="1.3" />
<line x1="552.2" y1="1609.2" x2="566.6" y2="1623.3" stroke="#111" stroke-width="0.9" />
<line x1="606.7" y1="718.2" x2="606.7" y2="1023.9" stroke="#333" stroke-width="1.0" />
<line x1="593.1" y1="729" x2="620.3" y2="729" stroke="#555" stroke-width="1.3" />
<line x1="599.4" y1="721.7" x2="614" y2="736.3" stroke="#111" stroke-width="0.9" />
<line x1="593.1" y1="1012.5" x2="620.3" y2="1012.5" stroke="#555" stroke-width="1.3" />
<line x1="599.4" y1="1005.2" x2="614" y2="1019.8" stroke="#111" stroke-width="0.9" />
<line x1="518.7" y1="342.4" x2="518.7" y2="447.7" stroke="#333" stroke-width="1.0" />
<line x1="505.1" y1="352.5" x2="532.3" y2="352.5" stroke="#555" stroke-width="1.3" />
<line x1="511.4" y1="345.2" x2="526" y2="359.8" stroke="#111" stroke-width="0.9" />
<line x1="505.1" y1="438.4" x2="532.3" y2="438.4" stroke="#555" stroke-width="1.3" />
<line x1="511.4" y1="431.1" x2="526" y2="445.7" stroke="#111" stroke-width="0.9" />
<line x1="584.5" y1="488" x2="649.5" y2="488" stroke="#5a5a5a" stroke-width="1.3" />
<line x1="595.5" y1="474.4" x2="595.5" y2="501.6" stroke="#333" stroke-width="1.0" />
<line x1="588.2" y1="495.3" x2="602.8" y2="480.7" stroke="#111" stroke-width="0.9" />
<line x1="631.1" y1="495.3" x2="645.7" y2="480.7" stroke="#111" stroke-width="0.9" />
<line x1="628" y1="680.5" x2="1112" y2="680.5" stroke="#5a5a5a" stroke-width="1.5" />
<line x1="631.2" y1="687.8" x2="645.8" y2="673.2" stroke="#111" stroke-width="0.9" />
<line x1="642" y1="687.8" x2="656.6" y2="673.2" stroke="#111" stroke-width="0.9" />
<line x1="755" y1="687.8" x2="769.6" y2="673.2" stroke="#111" stroke-width="0.9" />
<line x1="1003.7" y1="687.8" x2="1018.3" y2="673.2" stroke="#111" stroke-width="0.9" />
<line x1="1093.2" y1="687.8" x2="1107.8" y2="673.2" stroke="#111" stroke-width="0.9" />
<line x1="649.3" y1="667" x2="649.3" y2="694" stroke="#222" stroke-width="1.2" />
<line x1="1153.8" y1="468.9" x2="1153.8" y2="1925" stroke="#5a5a5a" stroke-width="1.4" />
<line x1="1140.2" y1="479.5" x2="1167.4" y2="479.5" stroke="#5a5a5a" stroke-width="1.3" />
<line x1="1146.5" y1="472.2" x2="1161.1" y2="486.8" stroke="#111" stroke-width="0.9" />
<line x1="1140.2" y1="494.1" x2="1167.4" y2="494.1" stroke="#5a5a5a" stroke-width="1.3" />
<line x1="1146.5" y1="486.8" x2="1161.1" y2="501.4" stroke="#111" stroke-width="0.9" />
<line x1="1153.8" y1="1013.4" x2="1153.8" y2="1013.4" stroke="#5a5a5a" stroke-width="1.3" />
<line x1="1146.5" y1="1006.1" x2="1161.1" y2="1020.7" stroke="#111" stroke-width="0.9" />
<line x1="1210.3" y1="688.2" x2="1210.3" y2="852.3" stroke="#222" stroke-width="0.9" />
<line x1="1196.7" y1="699.4" x2="1223.9" y2="699.4" stroke="#222" stroke-width="0.9" />
<line x1="1203" y1="692.1" x2="1217.6" y2="706.7" stroke="#111" stroke-width="0.9" />
<line x1="1210.3" y1="840.8" x2="1210.3" y2="840.8" stroke="#222" stroke-width="1.3" />
<line x1="1203" y1="833.5" x2="1217.6" y2="848.1" stroke="#111" stroke-width="0.9" />
<line x1="1205.5" y1="1001.7" x2="1205.5" y2="1925" stroke="#222" stroke-width="0.9" />
<line x1="1205.5" y1="1013.4" x2="1205.5" y2="1013.4" stroke="#5a5a5a" stroke-width="1.3" />
<line x1="1198.2" y1="1006.1" x2="1212.8" y2="1020.7" stroke="#111" stroke-width="0.9" />
<line x1="1205.5" y1="1261.3" x2="1205.5" y2="1261.3" stroke="#222" stroke-width="1.3" />
<line x1="1198.2" y1="1254" x2="1212.8" y2="1268.6" stroke="#111" stroke-width="0.9" />
<line x1="1262" y1="1006" x2="1262" y2="1925" stroke="#5a5a5a" stroke-width="1.3" />
<line x1="1262" y1="1013.4" x2="1262" y2="1013.4" stroke="#5a5a5a" stroke-width="1.3" />
<line x1="1254.7" y1="1006.1" x2="1269.3" y2="1020.7" stroke="#111" stroke-width="0.9" />
<line x1="1262" y1="1261.3" x2="1262" y2="1261.3" stroke="#5a5a5a" stroke-width="1.3" />
<line x1="1254.7" y1="1254" x2="1269.3" y2="1268.6" stroke="#111" stroke-width="0.9" />
<polygon points="395.5,339.2 412.3,339.2 403.9,352.9" fill="none" stroke="#222" stroke-width="0.9" />
<line x1="393.1" y1="352.9" x2="414.7" y2="352.9" stroke="#666" stroke-width="1.2" />
<polygon points="1152.5,373.8 1169.3,373.8 1160.9,387.5" fill="none" stroke="#222" stroke-width="0.9" />
<line x1="1150.1" y1="387.5" x2="1171.7" y2="387.5" stroke="#666" stroke-width="1.2" />
<rect x="872.3" y="657.4" width="28.9" height="22.2" fill="#fff"  />
<rect x="1181" y="1122.6" width="23.6" height="28.1" fill="#fff"  />
<rect x="1237.8" y="1122.6" width="23" height="28.1" fill="#fff"  />
<rect x="707" y="443.5" width="67" height="22" fill="#fff"  />
<rect x="999" y="457" width="67" height="21.8" fill="#fff"  />
<rect x="693.5" y="658" width="26.5" height="21.3" fill="#fff"  />
<rect x="1040" y="657" width="32" height="22.3" fill="#fff"  />
<rect x="1573" y="752" width="149" height="24" fill="#fff"  />
<rect x="583" y="858" width="23" height="26.9" fill="#fff"  />
<rect x="1129.5" y="745" width="23.3" height="26" fill="#fff"  />
<rect x="1186" y="757" width="23" height="26" fill="#fff"  />
<polyline points="1721.9,776.7 1571.9,776.7 1449.8,886" fill="none" stroke="#141414" stroke-width="1" />
<polygon points="732.6,466.1 748.8,466.1 740.7,479.7" fill="#000"  />
<line x1="729.9" y1="479.7" x2="751.5" y2="479.7" stroke="#666" stroke-width="1.2" />
<polygon points="1023.5,480.4 1039.7,480.4 1031.6,494" fill="#000"  />
<line x1="1020.8" y1="494" x2="1042.4" y2="494" stroke="#666" stroke-width="1.2" />
<polygon points="1102.2,997 1118.4,997 1110.3,1010.6" fill="#000"  />
<polygon points="1110.3,1261.3 1101.9,1275.3 1118.7,1275.3" fill="#000"  />
<g font-family="'Liberation Sans', sans-serif" fill="#0a0a0a" stroke="#0a0a0a" stroke-width="0.28" xml:space="preserve" style="filter:grayscale(1)"><text transform="translate(515.1 18.5) scale(0.8855 1)" font-size="18.4">Alublech,</text><text transform="translate(514.03 41.6) scale(0.8912 1)" font-size="18.4">keine Stehfälze</text><text transform="translate(513.76 88.2) scale(0.8962 1)" font-size="18.4">FPO über Attikakopf ziehen</text><text transform="translate(514.38 135.4) scale(0.8958 1)" font-size="18.4">OSB-Platte 22mm</text><text transform="translate(513.85 158.5) scale(0.8932 1)" font-size="18.4">Unterlage: besandete Bitumenbahn</text><text transform="translate(514.25 205.45) scale(0.8942 1)" font-size="18.4">125mm Dämmung WLG 035</text><text transform="translate(514.79 251.6) scale(0.8930 1)" font-size="18.4">OK Stahlbetonbrüstung</text><text transform="translate(514.43 275.1) scale(0.8925 1)" font-size="18.4">mit 2cm Gefälle nach innen</text><text transform="translate(515.5 322.3) scale(0.8950 1)" font-size="18.4">Vorstoßblech</text><text transform="translate(308.85 549.4) scale(0.8988 1)" font-size="18.4">L120x80x10 - S235JR</text><text transform="translate(357.37 589) scale(0.8898 1)" font-size="18.4">Durchbruch Attika im Bereich HEA</text><text transform="translate(358.08 612.5) scale(0.8928 1)" font-size="18.4">30/40 ab OK Decke</text><text transform="translate(363.85 689.3) scale(0.8977 1)" font-size="18.4">L180x90x10 - S235JR</text><text transform="translate(364.66 1039.3) scale(0.8910 1)" font-size="18.4">L180x90x10 - S235JR</text><text transform="translate(1220.4 453.8) scale(0.8929 1)" font-size="18.4">200 mm Substrat</text><text transform="translate(1220.39 478) scale(0.8973 1)" font-size="18.4">2 mm Vlies</text><text transform="translate(1220.48 501.3) scale(0.8977 1)" font-size="18.4">80 mm WRB</text><text transform="translate(1220.38 548) scale(0.9057 1)" font-size="18.4">2 mm FPO</text><text transform="translate(1220.39 595.2) scale(0.8987 1)" font-size="18.4">240 mm EPS WLG 035</text><text transform="translate(1219.85 665.4) scale(0.9033 1)" font-size="18.4">Dampfsperre SD  ≥ 1000</text><text transform="translate(1576.95 771.2) scale(0.9003 1)" font-size="18.4">HEA 180 - S235JR</text><text transform="translate(370.7 1144.8) scale(0.6937 1)" font-size="28.7">Wandaufbau:</text><text transform="translate(380.68 1180.4) scale(0.6860 1)" font-size="28.7">35 cm Stahlbeton</text><text transform="translate(380.87 1215.6) scale(0.6846 1)" font-size="28.7">16 cm Dämmung WLG 0,35</text><text transform="translate(376.57 1250.7) scale(0.6840 1)" font-size="28.7">1,5 cm Putz</text><text transform="translate(370.08 1560.4) scale(0.6900 1)" font-size="28.7">Schallschutzfenster:</text><text transform="translate(369.78 1595.5) scale(0.6774 1)" font-size="28.7">Klasse IV</text><text transform="translate(369.74 1630.6) scale(0.6939 1)" font-size="28.7">Farbe:</text><text transform="translate(369.76 1665.8) scale(0.6854 1)" font-size="28.7">RAL 9011</text><text transform="translate(372.26 335.6) scale(0.8536 1)" font-size="24.0">+20,93</text><text transform="translate(1128.86 370.4) scale(0.8580 1)" font-size="24.0">+20,88</text><text transform="translate(708.55 462.7) scale(0.8622 1)" font-size="24.0">+20,75</text><text transform="translate(1000.26 476.1) scale(0.8523 1)" font-size="24.0">+20,73</text><text transform="translate(1079.08 995.6) scale(0.8346 1)" font-size="24.0">+20,00</text><text transform="translate(1079.27 1295.5) scale(0.8414 1)" font-size="24.0">+19,65</text><text transform="translate(610.72 483.8) scale(0.9009 1)" font-size="24.0">6</text><text transform="translate(694.51 677.7) scale(0.8848 1)" font-size="24.0">16</text><text transform="translate(612.96 677.7) scale(0.5769 1)" font-size="24.0">1</text><text transform="translate(623.67 668.2) scale(0.8657 1)" font-size="14.0">5</text><text transform="translate(874.96 676.9) scale(0.8210 1)" font-size="24.0">35</text><text transform="translate(1040.98 676.9) scale(0.8422 1)" font-size="24.0">12</text><text transform="translate(1063.95 667.7) scale(0.8923 1)" font-size="13.5">5</text><text transform="translate(515 406.33) rotate(-90) scale(0.8506 1)" font-size="24.0">12</text><text transform="translate(555 511.7) rotate(-90) scale(0.8364 1)" font-size="24.0">2</text><text transform="translate(555.2 769.7) rotate(-90) scale(0.8303 1)" font-size="24.0">73</text><text transform="translate(603 882.21) rotate(-90) scale(0.8245 1)" font-size="24.0">40</text><text transform="translate(555.3 1148.25) rotate(-90) scale(0.8371 1)" font-size="24.0">35</text><text transform="translate(555.3 1450.25) rotate(-90) scale(0.8337 1)" font-size="24.0">50</text><text transform="translate(1150.4 512.46) rotate(-90) scale(0.8818 1)" font-size="24.0">2</text><text transform="translate(1150.3 769.95) rotate(-90) scale(0.8753 1)" font-size="24.0">73</text><text transform="translate(1205.8 782.07) rotate(-90) scale(0.8926 1)" font-size="24.0">20</text><text transform="translate(1201.1 1147.75) rotate(-90) scale(0.8291 1)" font-size="24.0">35</text><text transform="translate(1257.8 1147.75) rotate(-90) scale(0.8291 1)" font-size="24.0">35</text></g>
</g>
</svg>
</body></html>
